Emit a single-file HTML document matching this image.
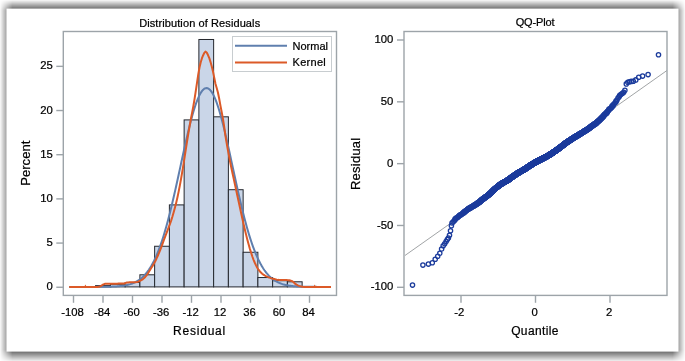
<!DOCTYPE html>
<html><head><meta charset="utf-8"><title>Residual diagnostics</title>
<style>html,body{margin:0;padding:0;background:#fff;}body{width:685px;height:361px;overflow:hidden;position:relative;font-family:"Liberation Sans",sans-serif;}</style>
</head><body>
<svg width="685" height="361" viewBox="0 0 685 361" style="position:absolute;left:0;top:0;will-change:transform">
<defs>
<linearGradient id="gx" gradientUnits="userSpaceOnUse" x1="0" y1="0" x2="685" y2="0">
<stop offset="0" stop-color="#fff" stop-opacity="0.0235"/><stop offset="0.018102" stop-color="#fff" stop-opacity="1"/><stop offset="0.981898" stop-color="#fff" stop-opacity="1"/><stop offset="1" stop-color="#fff" stop-opacity="0.0235"/></linearGradient>
<linearGradient id="gy" gradientUnits="userSpaceOnUse" x1="0" y1="0" x2="0" y2="361">
<stop offset="0" stop-color="#000" stop-opacity="0.02"/><stop offset="0.02964" stop-color="#000" stop-opacity="0.68"/><stop offset="0.96842" stop-color="#000" stop-opacity="0.68"/><stop offset="1" stop-color="#000" stop-opacity="0.062"/></linearGradient>
<mask id="mx" maskUnits="userSpaceOnUse" x="0" y="0" width="685" height="361" style="mask-type:alpha"><rect x="0" y="0" width="685" height="361" fill="url(#gx)"/></mask>
<clipPath id="cl"><rect x="64" y="32" width="272" height="263"/></clipPath>
<clipPath id="cr"><rect x="405" y="32" width="262" height="263"/></clipPath>
</defs>
<rect x="0" y="0" width="685" height="361" fill="url(#gy)" mask="url(#mx)"/>
<rect x="6.5" y="8.6" width="672.0" height="343.0" fill="#fff"/>
<g clip-path="url(#cl)">
<rect x="95.63" y="285.57" width="14.75" height="1.33" fill="#cad6e8" stroke="#24272d" stroke-width="1"/>
<rect x="110.38" y="284.25" width="14.75" height="2.65" fill="#cad6e8" stroke="#24272d" stroke-width="1"/>
<rect x="125.13" y="282.48" width="14.75" height="4.42" fill="#cad6e8" stroke="#24272d" stroke-width="1"/>
<rect x="139.88" y="274.79" width="14.75" height="12.11" fill="#cad6e8" stroke="#24272d" stroke-width="1"/>
<rect x="154.63" y="246.25" width="14.75" height="40.65" fill="#cad6e8" stroke="#24272d" stroke-width="1"/>
<rect x="169.38" y="204.90" width="14.75" height="82.00" fill="#cad6e8" stroke="#24272d" stroke-width="1"/>
<rect x="184.13" y="119.90" width="14.75" height="167.00" fill="#cad6e8" stroke="#24272d" stroke-width="1"/>
<rect x="198.88" y="39.49" width="14.75" height="247.41" fill="#cad6e8" stroke="#24272d" stroke-width="1"/>
<rect x="213.63" y="116.81" width="14.75" height="170.09" fill="#cad6e8" stroke="#24272d" stroke-width="1"/>
<rect x="228.38" y="189.70" width="14.75" height="97.20" fill="#cad6e8" stroke="#24272d" stroke-width="1"/>
<rect x="243.13" y="252.26" width="14.75" height="34.64" fill="#cad6e8" stroke="#24272d" stroke-width="1"/>
<rect x="257.88" y="277.53" width="14.75" height="9.37" fill="#cad6e8" stroke="#24272d" stroke-width="1"/>
<rect x="272.63" y="280.71" width="14.75" height="6.19" fill="#cad6e8" stroke="#24272d" stroke-width="1"/>
<rect x="287.38" y="281.78" width="14.75" height="5.12" fill="#cad6e8" stroke="#24272d" stroke-width="1"/>
<polyline points="69.20,286.90 70.07,286.90 70.95,286.90 71.82,286.90 72.70,286.90 73.58,286.90 74.45,286.90 75.33,286.90 76.20,286.90 77.08,286.90 77.95,286.90 78.83,286.90 79.71,286.90 80.58,286.90 81.46,286.90 82.33,286.90 83.21,286.90 84.08,286.90 84.96,286.90 85.83,286.90 86.71,286.89 87.59,286.89 88.46,286.89 89.34,286.89 90.21,286.89 91.09,286.89 91.96,286.89 92.84,286.89 93.72,286.88 94.59,286.88 95.47,286.88 96.34,286.87 97.22,286.87 98.09,286.87 98.97,286.86 99.84,286.85 100.72,286.85 101.60,286.84 102.47,286.83 103.35,286.82 104.22,286.81 105.10,286.80 105.97,286.78 106.85,286.77 107.73,286.75 108.60,286.73 109.48,286.71 110.35,286.68 111.23,286.65 112.10,286.62 112.98,286.59 113.86,286.55 114.73,286.50 115.61,286.45 116.48,286.40 117.36,286.33 118.23,286.27 119.11,286.19 119.98,286.10 120.86,286.01 121.74,285.91 122.61,285.79 123.49,285.67 124.36,285.53 125.24,285.38 126.11,285.21 126.99,285.02 127.87,284.82 128.74,284.60 129.62,284.36 130.49,284.10 131.37,283.81 132.24,283.50 133.12,283.16 133.99,282.79 134.87,282.38 135.75,281.95 136.62,281.48 137.50,280.97 138.37,280.42 139.25,279.83 140.12,279.19 141.00,278.50 141.88,277.77 142.75,276.98 143.63,276.13 144.50,275.23 145.38,274.26 146.25,273.23 147.13,272.13 148.00,270.97 148.88,269.73 149.76,268.41 150.63,267.01 151.51,265.54 152.38,263.98 153.26,262.33 154.13,260.60 155.01,258.77 155.89,256.86 156.76,254.84 157.64,252.74 158.51,250.53 159.39,248.23 160.26,245.82 161.14,243.32 162.01,240.71 162.89,238.01 163.77,235.21 164.64,232.30 165.52,229.30 166.39,226.20 167.27,223.01 168.14,219.73 169.02,216.36 169.90,212.90 170.77,209.36 171.65,205.74 172.52,202.05 173.40,198.30 174.27,194.48 175.15,190.60 176.02,186.68 176.90,182.72 177.78,178.72 178.65,174.69 179.53,170.65 180.40,166.59 181.28,162.54 182.15,158.49 183.03,154.46 183.91,150.46 184.78,146.50 185.66,142.59 186.53,138.74 187.41,134.95 188.28,131.24 189.16,127.63 190.03,124.11 190.91,120.71 191.79,117.42 192.66,114.27 193.54,111.26 194.41,108.39 195.29,105.69 196.16,103.15 197.04,100.78 197.92,98.60 198.79,96.61 199.67,94.81 200.54,93.22 201.42,91.84 202.29,90.66 203.17,89.71 204.04,88.97 204.92,88.45 205.80,88.16 206.67,88.09 207.55,88.25 208.42,88.63 209.30,89.24 210.17,90.06 211.05,91.11 211.93,92.37 212.80,93.84 213.68,95.51 214.55,97.38 215.43,99.45 216.30,101.71 217.18,104.14 218.05,106.75 218.93,109.52 219.81,112.45 220.68,115.52 221.56,118.73 222.43,122.06 223.31,125.51 224.18,129.07 225.06,132.72 225.94,136.46 226.81,140.27 227.69,144.15 228.56,148.09 229.44,152.06 230.31,156.08 231.19,160.11 232.06,164.16 232.94,168.22 233.82,172.27 234.69,176.31 235.57,180.32 236.44,184.31 237.32,188.26 238.19,192.16 239.07,196.02 239.95,199.81 240.82,203.54 241.70,207.20 242.57,210.79 243.45,214.30 244.32,217.72 245.20,221.06 246.08,224.30 246.95,227.46 247.83,230.52 248.70,233.48 249.58,236.34 250.45,239.11 251.33,241.77 252.20,244.33 253.08,246.80 253.96,249.16 254.83,251.43 255.71,253.59 256.58,255.66 257.46,257.64 258.33,259.52 259.21,261.30 260.09,263.00 260.96,264.61 261.84,266.14 262.71,267.58 263.59,268.95 264.46,270.23 265.34,271.44 266.21,272.58 267.09,273.65 267.97,274.66 268.84,275.60 269.72,276.48 270.59,277.30 271.47,278.07 272.34,278.79 273.22,279.45 274.10,280.07 274.97,280.65 275.85,281.18 276.72,281.67 277.60,282.13 278.47,282.55 279.35,282.94 280.22,283.30 281.10,283.62 281.98,283.93 282.85,284.21 283.73,284.46 284.60,284.69 285.48,284.91 286.35,285.10 287.23,285.28 288.11,285.44 288.98,285.59 289.86,285.72 290.73,285.84 291.61,285.95 292.48,286.05 293.36,286.14 294.23,286.22 295.11,286.29 295.99,286.36 296.86,286.42 297.74,286.47 298.61,286.52 299.49,286.56 300.36,286.60 301.24,286.64 302.12,286.67 302.99,286.69 303.87,286.72 304.74,286.74 305.62,286.76 306.49,286.78 307.37,286.79 308.24,286.80 309.12,286.82 310.00,286.83 310.87,286.84 311.75,286.84 312.62,286.85 313.50,286.86 314.37,286.86 315.25,286.87 316.13,286.87 317.00,286.88 317.88,286.88 318.75,286.88 319.63,286.88 320.50,286.89 321.38,286.89 322.25,286.89 323.13,286.89 324.01,286.89 324.88,286.89 325.76,286.89 326.63,286.90 327.51,286.90 328.38,286.90 329.26,286.90 330.14,286.90 331.01,286.90" fill="none" stroke="#5f7fae" stroke-width="2" stroke-linejoin="round"/>
<polyline points="69.20,286.90 70.43,286.90 71.66,286.90 72.89,286.90 74.11,286.90 75.34,286.90 76.57,286.90 77.80,286.90 79.03,286.90 80.26,286.90 81.49,286.90 82.72,286.90 83.95,286.90 85.18,286.90 86.41,286.90 87.64,286.90 88.86,286.90 90.09,286.90 91.32,286.90 92.55,286.90 93.78,286.90 95.01,286.90 96.24,286.90 97.47,286.90 98.70,286.84 99.93,286.44 101.16,285.86 102.39,284.97 103.61,284.31 104.84,283.81 106.07,283.71 107.30,283.68 108.53,283.67 109.76,283.65 110.99,283.64 112.22,283.64 113.45,283.64 114.68,283.63 115.91,283.63 117.14,283.63 118.36,283.62 119.59,283.62 120.82,283.61 122.05,283.59 123.28,283.57 124.51,283.55 125.74,282.88 126.97,282.51 128.20,282.43 129.43,282.37 130.66,282.34 131.89,282.31 133.11,282.28 134.34,282.24 135.57,282.16 136.80,282.00 138.03,281.67 139.26,281.20 140.49,280.65 141.72,279.99 142.95,279.08 144.18,277.98 145.41,276.73 146.64,275.27 147.86,273.44 149.09,271.43 150.32,269.42 151.55,267.52 152.78,265.59 154.01,263.53 155.24,261.23 156.47,258.71 157.70,256.01 158.93,253.16 160.16,250.12 161.39,246.90 162.61,243.57 163.84,240.19 165.07,236.84 166.30,233.58 167.53,230.40 168.76,227.21 169.99,223.89 171.22,220.35 172.45,216.50 173.68,212.31 174.91,207.77 176.14,202.90 177.36,197.66 178.59,191.87 179.82,185.59 181.05,178.92 182.28,171.65 183.51,164.08 184.74,156.31 185.97,148.34 187.20,140.48 188.43,132.99 189.66,125.80 190.89,118.97 192.11,112.68 193.34,106.19 194.57,98.85 195.80,90.97 197.03,82.70 198.26,74.35 199.49,67.48 200.72,62.28 201.95,58.20 203.18,55.21 204.41,52.64 205.64,51.60 206.86,52.81 208.09,55.28 209.32,58.15 210.55,62.09 211.78,66.53 213.01,71.60 214.24,77.64 215.47,83.74 216.70,88.07 217.93,92.51 219.16,98.57 220.39,105.33 221.61,111.66 222.84,118.10 224.07,125.94 225.30,134.90 226.53,142.44 227.76,149.30 228.99,155.92 230.22,162.24 231.45,168.24 232.68,173.97 233.91,179.64 235.14,185.35 236.37,191.02 237.59,196.68 238.82,202.32 240.05,208.00 241.28,213.69 242.51,219.28 243.74,224.70 244.97,229.99 246.20,235.14 247.43,240.02 248.66,244.58 249.89,248.87 251.12,252.82 252.34,256.49 253.57,259.84 254.80,262.74 256.03,265.40 257.26,267.76 258.49,269.67 259.72,271.21 260.95,272.55 262.18,273.69 263.41,274.62 264.64,275.40 265.87,276.07 267.09,276.67 268.32,277.20 269.55,277.67 270.78,278.09 272.01,278.45 273.24,278.77 274.47,279.06 275.70,279.37 276.93,279.66 278.16,279.87 279.39,279.95 280.62,279.99 281.84,280.02 283.07,280.04 284.30,280.06 285.53,280.08 286.76,280.11 287.99,280.16 289.22,280.27 290.45,280.57 291.68,281.02 292.91,281.62 294.14,282.75 295.37,283.90 296.59,284.68 297.82,285.36 299.05,285.90 300.28,286.28 301.51,286.60 302.74,286.83 303.97,286.90 305.20,286.90 306.43,286.90 307.66,286.90 308.89,286.90 310.12,286.90 311.34,286.90 312.57,286.90 313.80,286.90 315.03,286.90 316.26,286.90 317.49,286.90 318.72,286.90 319.95,286.90 321.18,286.90 322.41,286.90 323.64,286.90 324.87,286.90 326.09,286.90 327.32,286.90 328.55,286.90 329.78,286.90 331.01,286.90" fill="none" stroke="#dc5a28" stroke-width="2" stroke-linejoin="round"/>
<path d="M84.5,286.2 L85.4,284.4 L86.3,286.2 Z M313.8,286.2 L314.7,284.4 L315.6,286.2 Z" fill="#dc5a28"/>
</g>
<rect x="63.3" y="31.5" width="273.2" height="263.9" fill="none" stroke="#9da4a9" stroke-width="1.4"/>
<line x1="73.5" y1="295.4" x2="73.5" y2="302.79999999999995" stroke="#9da4a9" stroke-width="1.4"/>
<text x="72.6" y="315.9" font-size="11.3" text-anchor="middle" font-family="Liberation Sans, sans-serif" stroke="#000" stroke-width="0.22" fill="#000">-108</text>
<line x1="103.00008" y1="295.4" x2="103.00008" y2="302.79999999999995" stroke="#9da4a9" stroke-width="1.4"/>
<text x="102.1" y="315.9" font-size="11.3" text-anchor="middle" font-family="Liberation Sans, sans-serif" stroke="#000" stroke-width="0.22" fill="#000">-84</text>
<line x1="132.50016" y1="295.4" x2="132.50016" y2="302.79999999999995" stroke="#9da4a9" stroke-width="1.4"/>
<text x="131.6" y="315.9" font-size="11.3" text-anchor="middle" font-family="Liberation Sans, sans-serif" stroke="#000" stroke-width="0.22" fill="#000">-60</text>
<line x1="162.00024000000002" y1="295.4" x2="162.00024000000002" y2="302.79999999999995" stroke="#9da4a9" stroke-width="1.4"/>
<text x="161.1" y="315.9" font-size="11.3" text-anchor="middle" font-family="Liberation Sans, sans-serif" stroke="#000" stroke-width="0.22" fill="#000">-36</text>
<line x1="191.50032000000002" y1="295.4" x2="191.50032000000002" y2="302.79999999999995" stroke="#9da4a9" stroke-width="1.4"/>
<text x="190.6" y="315.9" font-size="11.3" text-anchor="middle" font-family="Liberation Sans, sans-serif" stroke="#000" stroke-width="0.22" fill="#000">-12</text>
<line x1="221.0004" y1="295.4" x2="221.0004" y2="302.79999999999995" stroke="#9da4a9" stroke-width="1.4"/>
<text x="220.1" y="315.9" font-size="11.3" text-anchor="middle" font-family="Liberation Sans, sans-serif" stroke="#000" stroke-width="0.22" fill="#000">12</text>
<line x1="250.50048" y1="295.4" x2="250.50048" y2="302.79999999999995" stroke="#9da4a9" stroke-width="1.4"/>
<text x="249.6" y="315.9" font-size="11.3" text-anchor="middle" font-family="Liberation Sans, sans-serif" stroke="#000" stroke-width="0.22" fill="#000">36</text>
<line x1="280.00056" y1="295.4" x2="280.00056" y2="302.79999999999995" stroke="#9da4a9" stroke-width="1.4"/>
<text x="279.1" y="315.9" font-size="11.3" text-anchor="middle" font-family="Liberation Sans, sans-serif" stroke="#000" stroke-width="0.22" fill="#000">60</text>
<line x1="309.50064000000003" y1="295.4" x2="309.50064000000003" y2="302.79999999999995" stroke="#9da4a9" stroke-width="1.4"/>
<text x="308.6" y="315.9" font-size="11.3" text-anchor="middle" font-family="Liberation Sans, sans-serif" stroke="#000" stroke-width="0.22" fill="#000">84</text>
<line x1="56.3" y1="287.25" x2="63.3" y2="287.25" stroke="#9da4a9" stroke-width="1.4"/>
<text x="52.9" y="290.3" font-size="11.3" text-anchor="end" font-family="Liberation Sans, sans-serif" stroke="#000" stroke-width="0.22" fill="#000">0</text>
<line x1="56.3" y1="243.06999999999996" x2="63.3" y2="243.06999999999996" stroke="#9da4a9" stroke-width="1.4"/>
<text x="52.9" y="246.2" font-size="11.3" text-anchor="end" font-family="Liberation Sans, sans-serif" stroke="#000" stroke-width="0.22" fill="#000">5</text>
<line x1="56.3" y1="198.88999999999996" x2="63.3" y2="198.88999999999996" stroke="#9da4a9" stroke-width="1.4"/>
<text x="52.9" y="202.0" font-size="11.3" text-anchor="end" font-family="Liberation Sans, sans-serif" stroke="#000" stroke-width="0.22" fill="#000">10</text>
<line x1="56.3" y1="154.70999999999998" x2="63.3" y2="154.70999999999998" stroke="#9da4a9" stroke-width="1.4"/>
<text x="52.9" y="157.8" font-size="11.3" text-anchor="end" font-family="Liberation Sans, sans-serif" stroke="#000" stroke-width="0.22" fill="#000">15</text>
<line x1="56.3" y1="110.52999999999997" x2="63.3" y2="110.52999999999997" stroke="#9da4a9" stroke-width="1.4"/>
<text x="52.9" y="113.6" font-size="11.3" text-anchor="end" font-family="Liberation Sans, sans-serif" stroke="#000" stroke-width="0.22" fill="#000">20</text>
<line x1="56.3" y1="66.34999999999997" x2="63.3" y2="66.34999999999997" stroke="#9da4a9" stroke-width="1.4"/>
<text x="52.9" y="69.4" font-size="11.3" text-anchor="end" font-family="Liberation Sans, sans-serif" stroke="#000" stroke-width="0.22" fill="#000">25</text>
<text x="199.7" y="26.6" font-size="11" text-anchor="middle" letter-spacing="0.1" font-family="Liberation Sans, sans-serif" stroke="#000" stroke-width="0.22" fill="#000">Distribution of Residuals</text>
<text x="199.5" y="335.1" font-size="12" text-anchor="middle" letter-spacing="0.8" font-family="Liberation Sans, sans-serif" stroke="#000" stroke-width="0.22" fill="#000">Residual</text>
<text transform="translate(30.0,163.2) rotate(-90)" font-size="13" text-anchor="middle" letter-spacing="0.05" font-family="Liberation Sans, sans-serif" stroke="#000" stroke-width="0.22" fill="#000">Percent</text>
<rect x="232.5" y="36.5" width="99" height="35" fill="#fff" stroke="#c8cdd0" stroke-width="1"/>
<line x1="235" y1="45.8" x2="287" y2="45.8" stroke="#5f7fae" stroke-width="2"/>
<line x1="235" y1="62.4" x2="287" y2="62.4" stroke="#dc5a28" stroke-width="2"/>
<text x="292.5" y="49.7" font-size="11" font-family="Liberation Sans, sans-serif" stroke="#000" stroke-width="0.22" fill="#000">Normal</text>
<text x="292.5" y="66.4" font-size="11" letter-spacing="0.3" font-family="Liberation Sans, sans-serif" stroke="#000" stroke-width="0.22" fill="#000">Kernel</text>
<g clip-path="url(#cr)">
<line x1="400" y1="259.0" x2="670" y2="68.35" stroke="#909396" stroke-width="0.85"/>
<g fill="none" stroke="#1b3b9c" stroke-width="1.3">
<circle cx="412.5" cy="285.1" r="2.15"/>
<circle cx="422.9" cy="265.1" r="2.15"/>
<circle cx="428.4" cy="264.1" r="2.15"/>
<circle cx="432.3" cy="262.7" r="2.15"/>
<circle cx="435.2" cy="259.2" r="2.15"/>
<circle cx="437.7" cy="256.2" r="2.15"/>
<circle cx="439.8" cy="253.3" r="2.15"/>
<circle cx="441.6" cy="249.0" r="2.15"/>
<circle cx="443.2" cy="245.7" r="2.15"/>
<circle cx="444.7" cy="243.8" r="2.15"/>
<circle cx="446.1" cy="241.5" r="2.15"/>
<circle cx="447.3" cy="239.6" r="2.15"/>
<circle cx="448.4" cy="238.0" r="2.15"/>
<circle cx="449.5" cy="235.2" r="2.15"/>
<circle cx="450.5" cy="230.7" r="2.15"/>
<circle cx="451.4" cy="225.7" r="2.15"/>
<circle cx="452.0" cy="223.0" r="2.15"/>
<circle cx="453.0" cy="222.0" r="2.15"/>
<circle cx="454.0" cy="221.0" r="2.15"/>
<circle cx="455.0" cy="220.0" r="2.15"/>
<circle cx="455.0" cy="219.0" r="2.15"/>
<circle cx="456.0" cy="218.0" r="2.15"/>
<circle cx="457.0" cy="218.0" r="2.15"/>
<circle cx="458.0" cy="217.0" r="2.15"/>
<circle cx="458.0" cy="217.0" r="2.15"/>
<circle cx="459.0" cy="216.0" r="2.15"/>
<circle cx="459.0" cy="216.0" r="2.15"/>
<circle cx="460.0" cy="215.0" r="2.15"/>
<circle cx="460.0" cy="215.0" r="2.15"/>
<circle cx="461.0" cy="215.0" r="2.15"/>
<circle cx="462.0" cy="214.0" r="2.15"/>
<circle cx="462.0" cy="214.0" r="2.15"/>
<circle cx="463.0" cy="213.0" r="2.15"/>
<circle cx="463.0" cy="213.0" r="2.15"/>
<circle cx="464.0" cy="213.0" r="2.15"/>
<circle cx="464.0" cy="212.0" r="2.15"/>
<circle cx="464.0" cy="212.0" r="2.15"/>
<circle cx="465.0" cy="212.0" r="2.15"/>
<circle cx="465.0" cy="211.0" r="2.15"/>
<circle cx="466.0" cy="211.0" r="2.15"/>
<circle cx="466.0" cy="211.0" r="2.15"/>
<circle cx="467.0" cy="210.0" r="2.15"/>
<circle cx="467.0" cy="210.0" r="2.15"/>
<circle cx="467.0" cy="210.0" r="2.15"/>
<circle cx="468.0" cy="209.0" r="2.15"/>
<circle cx="468.0" cy="209.0" r="2.15"/>
<circle cx="468.0" cy="209.0" r="2.15"/>
<circle cx="469.0" cy="209.0" r="2.15"/>
<circle cx="469.0" cy="209.0" r="2.15"/>
<circle cx="469.0" cy="208.0" r="2.15"/>
<circle cx="470.0" cy="208.0" r="2.15"/>
<circle cx="470.0" cy="208.0" r="2.15"/>
<circle cx="470.0" cy="208.0" r="2.15"/>
<circle cx="471.0" cy="208.0" r="2.15"/>
<circle cx="471.0" cy="207.0" r="2.15"/>
<circle cx="471.0" cy="207.0" r="2.15"/>
<circle cx="472.0" cy="207.0" r="2.15"/>
<circle cx="472.0" cy="207.0" r="2.15"/>
<circle cx="472.0" cy="207.0" r="2.15"/>
<circle cx="473.0" cy="206.0" r="2.15"/>
<circle cx="473.0" cy="206.0" r="2.15"/>
<circle cx="473.0" cy="206.0" r="2.15"/>
<circle cx="474.0" cy="206.0" r="2.15"/>
<circle cx="474.0" cy="206.0" r="2.15"/>
<circle cx="474.0" cy="206.0" r="2.15"/>
<circle cx="474.0" cy="205.0" r="2.15"/>
<circle cx="475.0" cy="205.0" r="2.15"/>
<circle cx="475.0" cy="205.0" r="2.15"/>
<circle cx="475.0" cy="205.0" r="2.15"/>
<circle cx="475.0" cy="205.0" r="2.15"/>
<circle cx="476.0" cy="205.0" r="2.15"/>
<circle cx="476.0" cy="204.0" r="2.15"/>
<circle cx="476.0" cy="204.0" r="2.15"/>
<circle cx="477.0" cy="204.0" r="2.15"/>
<circle cx="477.0" cy="204.0" r="2.15"/>
<circle cx="477.0" cy="204.0" r="2.15"/>
<circle cx="477.0" cy="204.0" r="2.15"/>
<circle cx="477.0" cy="203.0" r="2.15"/>
<circle cx="478.0" cy="203.0" r="2.15"/>
<circle cx="478.0" cy="203.0" r="2.15"/>
<circle cx="478.0" cy="203.0" r="2.15"/>
<circle cx="478.0" cy="203.0" r="2.15"/>
<circle cx="479.0" cy="203.0" r="2.15"/>
<circle cx="479.0" cy="202.0" r="2.15"/>
<circle cx="479.0" cy="202.0" r="2.15"/>
<circle cx="479.0" cy="202.0" r="2.15"/>
<circle cx="480.0" cy="202.0" r="2.15"/>
<circle cx="480.0" cy="202.0" r="2.15"/>
<circle cx="480.0" cy="202.0" r="2.15"/>
<circle cx="480.0" cy="201.0" r="2.15"/>
<circle cx="480.0" cy="201.0" r="2.15"/>
<circle cx="481.0" cy="201.0" r="2.15"/>
<circle cx="481.0" cy="201.0" r="2.15"/>
<circle cx="481.0" cy="201.0" r="2.15"/>
<circle cx="481.0" cy="200.0" r="2.15"/>
<circle cx="481.0" cy="200.0" r="2.15"/>
<circle cx="482.0" cy="200.0" r="2.15"/>
<circle cx="482.0" cy="200.0" r="2.15"/>
<circle cx="482.0" cy="200.0" r="2.15"/>
<circle cx="482.0" cy="200.0" r="2.15"/>
<circle cx="482.0" cy="199.0" r="2.15"/>
<circle cx="483.0" cy="199.0" r="2.15"/>
<circle cx="483.0" cy="199.0" r="2.15"/>
<circle cx="483.0" cy="199.0" r="2.15"/>
<circle cx="483.0" cy="199.0" r="2.15"/>
<circle cx="483.0" cy="199.0" r="2.15"/>
<circle cx="484.0" cy="199.0" r="2.15"/>
<circle cx="484.0" cy="198.0" r="2.15"/>
<circle cx="484.0" cy="198.0" r="2.15"/>
<circle cx="484.0" cy="198.0" r="2.15"/>
<circle cx="484.0" cy="198.0" r="2.15"/>
<circle cx="485.0" cy="198.0" r="2.15"/>
<circle cx="485.0" cy="198.0" r="2.15"/>
<circle cx="485.0" cy="198.0" r="2.15"/>
<circle cx="485.0" cy="197.0" r="2.15"/>
<circle cx="485.0" cy="197.0" r="2.15"/>
<circle cx="485.0" cy="197.0" r="2.15"/>
<circle cx="486.0" cy="197.0" r="2.15"/>
<circle cx="486.0" cy="197.0" r="2.15"/>
<circle cx="486.0" cy="197.0" r="2.15"/>
<circle cx="486.0" cy="197.0" r="2.15"/>
<circle cx="486.0" cy="197.0" r="2.15"/>
<circle cx="487.0" cy="196.0" r="2.15"/>
<circle cx="487.0" cy="196.0" r="2.15"/>
<circle cx="487.0" cy="196.0" r="2.15"/>
<circle cx="487.0" cy="196.0" r="2.15"/>
<circle cx="487.0" cy="196.0" r="2.15"/>
<circle cx="487.0" cy="196.0" r="2.15"/>
<circle cx="488.0" cy="196.0" r="2.15"/>
<circle cx="488.0" cy="195.0" r="2.15"/>
<circle cx="488.0" cy="195.0" r="2.15"/>
<circle cx="488.0" cy="195.0" r="2.15"/>
<circle cx="488.0" cy="195.0" r="2.15"/>
<circle cx="488.0" cy="195.0" r="2.15"/>
<circle cx="489.0" cy="195.0" r="2.15"/>
<circle cx="489.0" cy="195.0" r="2.15"/>
<circle cx="489.0" cy="195.0" r="2.15"/>
<circle cx="489.0" cy="194.0" r="2.15"/>
<circle cx="489.0" cy="194.0" r="2.15"/>
<circle cx="489.0" cy="194.0" r="2.15"/>
<circle cx="489.0" cy="194.0" r="2.15"/>
<circle cx="490.0" cy="194.0" r="2.15"/>
<circle cx="490.0" cy="194.0" r="2.15"/>
<circle cx="490.0" cy="194.0" r="2.15"/>
<circle cx="490.0" cy="194.0" r="2.15"/>
<circle cx="490.0" cy="193.0" r="2.15"/>
<circle cx="490.0" cy="193.0" r="2.15"/>
<circle cx="491.0" cy="193.0" r="2.15"/>
<circle cx="491.0" cy="193.0" r="2.15"/>
<circle cx="491.0" cy="193.0" r="2.15"/>
<circle cx="491.0" cy="193.0" r="2.15"/>
<circle cx="491.0" cy="193.0" r="2.15"/>
<circle cx="491.0" cy="192.0" r="2.15"/>
<circle cx="491.0" cy="192.0" r="2.15"/>
<circle cx="492.0" cy="192.0" r="2.15"/>
<circle cx="492.0" cy="192.0" r="2.15"/>
<circle cx="492.0" cy="192.0" r="2.15"/>
<circle cx="492.0" cy="192.0" r="2.15"/>
<circle cx="492.0" cy="192.0" r="2.15"/>
<circle cx="492.0" cy="191.0" r="2.15"/>
<circle cx="492.0" cy="191.0" r="2.15"/>
<circle cx="493.0" cy="191.0" r="2.15"/>
<circle cx="493.0" cy="191.0" r="2.15"/>
<circle cx="493.0" cy="191.0" r="2.15"/>
<circle cx="493.0" cy="191.0" r="2.15"/>
<circle cx="493.0" cy="191.0" r="2.15"/>
<circle cx="493.0" cy="191.0" r="2.15"/>
<circle cx="493.0" cy="190.0" r="2.15"/>
<circle cx="493.0" cy="190.0" r="2.15"/>
<circle cx="494.0" cy="190.0" r="2.15"/>
<circle cx="494.0" cy="190.0" r="2.15"/>
<circle cx="494.0" cy="190.0" r="2.15"/>
<circle cx="494.0" cy="190.0" r="2.15"/>
<circle cx="494.0" cy="190.0" r="2.15"/>
<circle cx="494.0" cy="189.0" r="2.15"/>
<circle cx="494.0" cy="189.0" r="2.15"/>
<circle cx="495.0" cy="189.0" r="2.15"/>
<circle cx="495.0" cy="189.0" r="2.15"/>
<circle cx="495.0" cy="189.0" r="2.15"/>
<circle cx="495.0" cy="189.0" r="2.15"/>
<circle cx="495.0" cy="189.0" r="2.15"/>
<circle cx="495.0" cy="189.0" r="2.15"/>
<circle cx="495.0" cy="189.0" r="2.15"/>
<circle cx="495.0" cy="188.0" r="2.15"/>
<circle cx="496.0" cy="188.0" r="2.15"/>
<circle cx="496.0" cy="188.0" r="2.15"/>
<circle cx="496.0" cy="188.0" r="2.15"/>
<circle cx="496.0" cy="188.0" r="2.15"/>
<circle cx="496.0" cy="188.0" r="2.15"/>
<circle cx="496.0" cy="188.0" r="2.15"/>
<circle cx="496.0" cy="188.0" r="2.15"/>
<circle cx="496.0" cy="188.0" r="2.15"/>
<circle cx="497.0" cy="187.0" r="2.15"/>
<circle cx="497.0" cy="187.0" r="2.15"/>
<circle cx="497.0" cy="187.0" r="2.15"/>
<circle cx="497.0" cy="187.0" r="2.15"/>
<circle cx="497.0" cy="187.0" r="2.15"/>
<circle cx="497.0" cy="187.0" r="2.15"/>
<circle cx="497.0" cy="187.0" r="2.15"/>
<circle cx="497.0" cy="187.0" r="2.15"/>
<circle cx="498.0" cy="187.0" r="2.15"/>
<circle cx="498.0" cy="187.0" r="2.15"/>
<circle cx="498.0" cy="186.0" r="2.15"/>
<circle cx="498.0" cy="186.0" r="2.15"/>
<circle cx="498.0" cy="186.0" r="2.15"/>
<circle cx="498.0" cy="186.0" r="2.15"/>
<circle cx="498.0" cy="186.0" r="2.15"/>
<circle cx="498.0" cy="186.0" r="2.15"/>
<circle cx="499.0" cy="186.0" r="2.15"/>
<circle cx="499.0" cy="186.0" r="2.15"/>
<circle cx="499.0" cy="186.0" r="2.15"/>
<circle cx="499.0" cy="186.0" r="2.15"/>
<circle cx="499.0" cy="186.0" r="2.15"/>
<circle cx="499.0" cy="185.0" r="2.15"/>
<circle cx="499.0" cy="185.0" r="2.15"/>
<circle cx="499.0" cy="185.0" r="2.15"/>
<circle cx="499.0" cy="185.0" r="2.15"/>
<circle cx="500.0" cy="185.0" r="2.15"/>
<circle cx="500.0" cy="185.0" r="2.15"/>
<circle cx="500.0" cy="185.0" r="2.15"/>
<circle cx="500.0" cy="185.0" r="2.15"/>
<circle cx="500.0" cy="185.0" r="2.15"/>
<circle cx="500.0" cy="185.0" r="2.15"/>
<circle cx="500.0" cy="185.0" r="2.15"/>
<circle cx="500.0" cy="185.0" r="2.15"/>
<circle cx="500.0" cy="184.0" r="2.15"/>
<circle cx="501.0" cy="184.0" r="2.15"/>
<circle cx="501.0" cy="184.0" r="2.15"/>
<circle cx="501.0" cy="184.0" r="2.15"/>
<circle cx="501.0" cy="184.0" r="2.15"/>
<circle cx="501.0" cy="184.0" r="2.15"/>
<circle cx="501.0" cy="184.0" r="2.15"/>
<circle cx="501.0" cy="184.0" r="2.15"/>
<circle cx="501.0" cy="184.0" r="2.15"/>
<circle cx="501.0" cy="184.0" r="2.15"/>
<circle cx="502.0" cy="184.0" r="2.15"/>
<circle cx="502.0" cy="184.0" r="2.15"/>
<circle cx="502.0" cy="184.0" r="2.15"/>
<circle cx="502.0" cy="184.0" r="2.15"/>
<circle cx="502.0" cy="183.0" r="2.15"/>
<circle cx="502.0" cy="183.0" r="2.15"/>
<circle cx="502.0" cy="183.0" r="2.15"/>
<circle cx="502.0" cy="183.0" r="2.15"/>
<circle cx="502.0" cy="183.0" r="2.15"/>
<circle cx="503.0" cy="183.0" r="2.15"/>
<circle cx="503.0" cy="183.0" r="2.15"/>
<circle cx="503.0" cy="183.0" r="2.15"/>
<circle cx="503.0" cy="183.0" r="2.15"/>
<circle cx="503.0" cy="183.0" r="2.15"/>
<circle cx="503.0" cy="183.0" r="2.15"/>
<circle cx="503.0" cy="183.0" r="2.15"/>
<circle cx="503.0" cy="183.0" r="2.15"/>
<circle cx="503.0" cy="183.0" r="2.15"/>
<circle cx="503.0" cy="183.0" r="2.15"/>
<circle cx="504.0" cy="183.0" r="2.15"/>
<circle cx="504.0" cy="182.0" r="2.15"/>
<circle cx="504.0" cy="182.0" r="2.15"/>
<circle cx="504.0" cy="182.0" r="2.15"/>
<circle cx="504.0" cy="182.0" r="2.15"/>
<circle cx="504.0" cy="182.0" r="2.15"/>
<circle cx="504.0" cy="182.0" r="2.15"/>
<circle cx="504.0" cy="182.0" r="2.15"/>
<circle cx="504.0" cy="182.0" r="2.15"/>
<circle cx="505.0" cy="182.0" r="2.15"/>
<circle cx="505.0" cy="182.0" r="2.15"/>
<circle cx="505.0" cy="182.0" r="2.15"/>
<circle cx="505.0" cy="182.0" r="2.15"/>
<circle cx="505.0" cy="182.0" r="2.15"/>
<circle cx="505.0" cy="182.0" r="2.15"/>
<circle cx="505.0" cy="182.0" r="2.15"/>
<circle cx="505.0" cy="182.0" r="2.15"/>
<circle cx="505.0" cy="182.0" r="2.15"/>
<circle cx="505.0" cy="182.0" r="2.15"/>
<circle cx="506.0" cy="181.0" r="2.15"/>
<circle cx="506.0" cy="181.0" r="2.15"/>
<circle cx="506.0" cy="181.0" r="2.15"/>
<circle cx="506.0" cy="181.0" r="2.15"/>
<circle cx="506.0" cy="181.0" r="2.15"/>
<circle cx="506.0" cy="181.0" r="2.15"/>
<circle cx="506.0" cy="181.0" r="2.15"/>
<circle cx="506.0" cy="181.0" r="2.15"/>
<circle cx="506.0" cy="181.0" r="2.15"/>
<circle cx="506.0" cy="181.0" r="2.15"/>
<circle cx="507.0" cy="181.0" r="2.15"/>
<circle cx="507.0" cy="181.0" r="2.15"/>
<circle cx="507.0" cy="181.0" r="2.15"/>
<circle cx="507.0" cy="181.0" r="2.15"/>
<circle cx="507.0" cy="181.0" r="2.15"/>
<circle cx="507.0" cy="181.0" r="2.15"/>
<circle cx="507.0" cy="181.0" r="2.15"/>
<circle cx="507.0" cy="181.0" r="2.15"/>
<circle cx="507.0" cy="180.0" r="2.15"/>
<circle cx="507.0" cy="180.0" r="2.15"/>
<circle cx="507.0" cy="180.0" r="2.15"/>
<circle cx="508.0" cy="180.0" r="2.15"/>
<circle cx="508.0" cy="180.0" r="2.15"/>
<circle cx="508.0" cy="180.0" r="2.15"/>
<circle cx="508.0" cy="180.0" r="2.15"/>
<circle cx="508.0" cy="180.0" r="2.15"/>
<circle cx="508.0" cy="180.0" r="2.15"/>
<circle cx="508.0" cy="180.0" r="2.15"/>
<circle cx="508.0" cy="180.0" r="2.15"/>
<circle cx="508.0" cy="180.0" r="2.15"/>
<circle cx="508.0" cy="180.0" r="2.15"/>
<circle cx="509.0" cy="180.0" r="2.15"/>
<circle cx="509.0" cy="180.0" r="2.15"/>
<circle cx="509.0" cy="180.0" r="2.15"/>
<circle cx="509.0" cy="179.0" r="2.15"/>
<circle cx="509.0" cy="179.0" r="2.15"/>
<circle cx="509.0" cy="179.0" r="2.15"/>
<circle cx="509.0" cy="179.0" r="2.15"/>
<circle cx="509.0" cy="179.0" r="2.15"/>
<circle cx="509.0" cy="179.0" r="2.15"/>
<circle cx="509.0" cy="179.0" r="2.15"/>
<circle cx="509.0" cy="179.0" r="2.15"/>
<circle cx="510.0" cy="179.0" r="2.15"/>
<circle cx="510.0" cy="179.0" r="2.15"/>
<circle cx="510.0" cy="179.0" r="2.15"/>
<circle cx="510.0" cy="179.0" r="2.15"/>
<circle cx="510.0" cy="179.0" r="2.15"/>
<circle cx="510.0" cy="179.0" r="2.15"/>
<circle cx="510.0" cy="179.0" r="2.15"/>
<circle cx="510.0" cy="178.0" r="2.15"/>
<circle cx="510.0" cy="178.0" r="2.15"/>
<circle cx="510.0" cy="178.0" r="2.15"/>
<circle cx="510.0" cy="178.0" r="2.15"/>
<circle cx="511.0" cy="178.0" r="2.15"/>
<circle cx="511.0" cy="178.0" r="2.15"/>
<circle cx="511.0" cy="178.0" r="2.15"/>
<circle cx="511.0" cy="178.0" r="2.15"/>
<circle cx="511.0" cy="178.0" r="2.15"/>
<circle cx="511.0" cy="178.0" r="2.15"/>
<circle cx="511.0" cy="178.0" r="2.15"/>
<circle cx="511.0" cy="178.0" r="2.15"/>
<circle cx="511.0" cy="178.0" r="2.15"/>
<circle cx="511.0" cy="178.0" r="2.15"/>
<circle cx="511.0" cy="178.0" r="2.15"/>
<circle cx="511.0" cy="177.0" r="2.15"/>
<circle cx="512.0" cy="177.0" r="2.15"/>
<circle cx="512.0" cy="177.0" r="2.15"/>
<circle cx="512.0" cy="177.0" r="2.15"/>
<circle cx="512.0" cy="177.0" r="2.15"/>
<circle cx="512.0" cy="177.0" r="2.15"/>
<circle cx="512.0" cy="177.0" r="2.15"/>
<circle cx="512.0" cy="177.0" r="2.15"/>
<circle cx="512.0" cy="177.0" r="2.15"/>
<circle cx="512.0" cy="177.0" r="2.15"/>
<circle cx="512.0" cy="177.0" r="2.15"/>
<circle cx="512.0" cy="177.0" r="2.15"/>
<circle cx="513.0" cy="177.0" r="2.15"/>
<circle cx="513.0" cy="177.0" r="2.15"/>
<circle cx="513.0" cy="177.0" r="2.15"/>
<circle cx="513.0" cy="177.0" r="2.15"/>
<circle cx="513.0" cy="176.0" r="2.15"/>
<circle cx="513.0" cy="176.0" r="2.15"/>
<circle cx="513.0" cy="176.0" r="2.15"/>
<circle cx="513.0" cy="176.0" r="2.15"/>
<circle cx="513.0" cy="176.0" r="2.15"/>
<circle cx="513.0" cy="176.0" r="2.15"/>
<circle cx="513.0" cy="176.0" r="2.15"/>
<circle cx="513.0" cy="176.0" r="2.15"/>
<circle cx="514.0" cy="176.0" r="2.15"/>
<circle cx="514.0" cy="176.0" r="2.15"/>
<circle cx="514.0" cy="176.0" r="2.15"/>
<circle cx="514.0" cy="176.0" r="2.15"/>
<circle cx="514.0" cy="176.0" r="2.15"/>
<circle cx="514.0" cy="176.0" r="2.15"/>
<circle cx="514.0" cy="176.0" r="2.15"/>
<circle cx="514.0" cy="176.0" r="2.15"/>
<circle cx="514.0" cy="176.0" r="2.15"/>
<circle cx="514.0" cy="175.0" r="2.15"/>
<circle cx="514.0" cy="175.0" r="2.15"/>
<circle cx="515.0" cy="175.0" r="2.15"/>
<circle cx="515.0" cy="175.0" r="2.15"/>
<circle cx="515.0" cy="175.0" r="2.15"/>
<circle cx="515.0" cy="175.0" r="2.15"/>
<circle cx="515.0" cy="175.0" r="2.15"/>
<circle cx="515.0" cy="175.0" r="2.15"/>
<circle cx="515.0" cy="175.0" r="2.15"/>
<circle cx="515.0" cy="175.0" r="2.15"/>
<circle cx="515.0" cy="175.0" r="2.15"/>
<circle cx="515.0" cy="175.0" r="2.15"/>
<circle cx="515.0" cy="175.0" r="2.15"/>
<circle cx="515.0" cy="175.0" r="2.15"/>
<circle cx="516.0" cy="175.0" r="2.15"/>
<circle cx="516.0" cy="175.0" r="2.15"/>
<circle cx="516.0" cy="175.0" r="2.15"/>
<circle cx="516.0" cy="174.0" r="2.15"/>
<circle cx="516.0" cy="174.0" r="2.15"/>
<circle cx="516.0" cy="174.0" r="2.15"/>
<circle cx="516.0" cy="174.0" r="2.15"/>
<circle cx="516.0" cy="174.0" r="2.15"/>
<circle cx="516.0" cy="174.0" r="2.15"/>
<circle cx="516.0" cy="174.0" r="2.15"/>
<circle cx="516.0" cy="174.0" r="2.15"/>
<circle cx="516.0" cy="174.0" r="2.15"/>
<circle cx="517.0" cy="174.0" r="2.15"/>
<circle cx="517.0" cy="174.0" r="2.15"/>
<circle cx="517.0" cy="174.0" r="2.15"/>
<circle cx="517.0" cy="174.0" r="2.15"/>
<circle cx="517.0" cy="174.0" r="2.15"/>
<circle cx="517.0" cy="174.0" r="2.15"/>
<circle cx="517.0" cy="174.0" r="2.15"/>
<circle cx="517.0" cy="174.0" r="2.15"/>
<circle cx="517.0" cy="174.0" r="2.15"/>
<circle cx="517.0" cy="174.0" r="2.15"/>
<circle cx="517.0" cy="173.0" r="2.15"/>
<circle cx="517.0" cy="173.0" r="2.15"/>
<circle cx="517.0" cy="173.0" r="2.15"/>
<circle cx="518.0" cy="173.0" r="2.15"/>
<circle cx="518.0" cy="173.0" r="2.15"/>
<circle cx="518.0" cy="173.0" r="2.15"/>
<circle cx="518.0" cy="173.0" r="2.15"/>
<circle cx="518.0" cy="173.0" r="2.15"/>
<circle cx="518.0" cy="173.0" r="2.15"/>
<circle cx="518.0" cy="173.0" r="2.15"/>
<circle cx="518.0" cy="173.0" r="2.15"/>
<circle cx="518.0" cy="173.0" r="2.15"/>
<circle cx="518.0" cy="173.0" r="2.15"/>
<circle cx="518.0" cy="173.0" r="2.15"/>
<circle cx="518.0" cy="173.0" r="2.15"/>
<circle cx="519.0" cy="173.0" r="2.15"/>
<circle cx="519.0" cy="173.0" r="2.15"/>
<circle cx="519.0" cy="173.0" r="2.15"/>
<circle cx="519.0" cy="173.0" r="2.15"/>
<circle cx="519.0" cy="173.0" r="2.15"/>
<circle cx="519.0" cy="172.0" r="2.15"/>
<circle cx="519.0" cy="172.0" r="2.15"/>
<circle cx="519.0" cy="172.0" r="2.15"/>
<circle cx="519.0" cy="172.0" r="2.15"/>
<circle cx="519.0" cy="172.0" r="2.15"/>
<circle cx="519.0" cy="172.0" r="2.15"/>
<circle cx="519.0" cy="172.0" r="2.15"/>
<circle cx="519.0" cy="172.0" r="2.15"/>
<circle cx="520.0" cy="172.0" r="2.15"/>
<circle cx="520.0" cy="172.0" r="2.15"/>
<circle cx="520.0" cy="172.0" r="2.15"/>
<circle cx="520.0" cy="172.0" r="2.15"/>
<circle cx="520.0" cy="172.0" r="2.15"/>
<circle cx="520.0" cy="172.0" r="2.15"/>
<circle cx="520.0" cy="172.0" r="2.15"/>
<circle cx="520.0" cy="172.0" r="2.15"/>
<circle cx="520.0" cy="172.0" r="2.15"/>
<circle cx="520.0" cy="172.0" r="2.15"/>
<circle cx="520.0" cy="172.0" r="2.15"/>
<circle cx="520.0" cy="172.0" r="2.15"/>
<circle cx="520.0" cy="172.0" r="2.15"/>
<circle cx="521.0" cy="172.0" r="2.15"/>
<circle cx="521.0" cy="171.0" r="2.15"/>
<circle cx="521.0" cy="171.0" r="2.15"/>
<circle cx="521.0" cy="171.0" r="2.15"/>
<circle cx="521.0" cy="171.0" r="2.15"/>
<circle cx="521.0" cy="171.0" r="2.15"/>
<circle cx="521.0" cy="171.0" r="2.15"/>
<circle cx="521.0" cy="171.0" r="2.15"/>
<circle cx="521.0" cy="171.0" r="2.15"/>
<circle cx="521.0" cy="171.0" r="2.15"/>
<circle cx="521.0" cy="171.0" r="2.15"/>
<circle cx="521.0" cy="171.0" r="2.15"/>
<circle cx="521.0" cy="171.0" r="2.15"/>
<circle cx="522.0" cy="171.0" r="2.15"/>
<circle cx="522.0" cy="171.0" r="2.15"/>
<circle cx="522.0" cy="171.0" r="2.15"/>
<circle cx="522.0" cy="171.0" r="2.15"/>
<circle cx="522.0" cy="171.0" r="2.15"/>
<circle cx="522.0" cy="171.0" r="2.15"/>
<circle cx="522.0" cy="171.0" r="2.15"/>
<circle cx="522.0" cy="171.0" r="2.15"/>
<circle cx="522.0" cy="171.0" r="2.15"/>
<circle cx="522.0" cy="171.0" r="2.15"/>
<circle cx="522.0" cy="171.0" r="2.15"/>
<circle cx="522.0" cy="171.0" r="2.15"/>
<circle cx="522.0" cy="170.0" r="2.15"/>
<circle cx="523.0" cy="170.0" r="2.15"/>
<circle cx="523.0" cy="170.0" r="2.15"/>
<circle cx="523.0" cy="170.0" r="2.15"/>
<circle cx="523.0" cy="170.0" r="2.15"/>
<circle cx="523.0" cy="170.0" r="2.15"/>
<circle cx="523.0" cy="170.0" r="2.15"/>
<circle cx="523.0" cy="170.0" r="2.15"/>
<circle cx="523.0" cy="170.0" r="2.15"/>
<circle cx="523.0" cy="170.0" r="2.15"/>
<circle cx="523.0" cy="170.0" r="2.15"/>
<circle cx="523.0" cy="170.0" r="2.15"/>
<circle cx="523.0" cy="170.0" r="2.15"/>
<circle cx="523.0" cy="170.0" r="2.15"/>
<circle cx="524.0" cy="170.0" r="2.15"/>
<circle cx="524.0" cy="170.0" r="2.15"/>
<circle cx="524.0" cy="170.0" r="2.15"/>
<circle cx="524.0" cy="170.0" r="2.15"/>
<circle cx="524.0" cy="170.0" r="2.15"/>
<circle cx="524.0" cy="170.0" r="2.15"/>
<circle cx="524.0" cy="170.0" r="2.15"/>
<circle cx="524.0" cy="170.0" r="2.15"/>
<circle cx="524.0" cy="169.0" r="2.15"/>
<circle cx="524.0" cy="169.0" r="2.15"/>
<circle cx="524.0" cy="169.0" r="2.15"/>
<circle cx="524.0" cy="169.0" r="2.15"/>
<circle cx="524.0" cy="169.0" r="2.15"/>
<circle cx="525.0" cy="169.0" r="2.15"/>
<circle cx="525.0" cy="169.0" r="2.15"/>
<circle cx="525.0" cy="169.0" r="2.15"/>
<circle cx="525.0" cy="169.0" r="2.15"/>
<circle cx="525.0" cy="169.0" r="2.15"/>
<circle cx="525.0" cy="169.0" r="2.15"/>
<circle cx="525.0" cy="169.0" r="2.15"/>
<circle cx="525.0" cy="169.0" r="2.15"/>
<circle cx="525.0" cy="169.0" r="2.15"/>
<circle cx="525.0" cy="169.0" r="2.15"/>
<circle cx="525.0" cy="169.0" r="2.15"/>
<circle cx="525.0" cy="169.0" r="2.15"/>
<circle cx="525.0" cy="169.0" r="2.15"/>
<circle cx="526.0" cy="169.0" r="2.15"/>
<circle cx="526.0" cy="169.0" r="2.15"/>
<circle cx="526.0" cy="169.0" r="2.15"/>
<circle cx="526.0" cy="168.0" r="2.15"/>
<circle cx="526.0" cy="168.0" r="2.15"/>
<circle cx="526.0" cy="168.0" r="2.15"/>
<circle cx="526.0" cy="168.0" r="2.15"/>
<circle cx="526.0" cy="168.0" r="2.15"/>
<circle cx="526.0" cy="168.0" r="2.15"/>
<circle cx="526.0" cy="168.0" r="2.15"/>
<circle cx="526.0" cy="168.0" r="2.15"/>
<circle cx="526.0" cy="168.0" r="2.15"/>
<circle cx="526.0" cy="168.0" r="2.15"/>
<circle cx="526.0" cy="168.0" r="2.15"/>
<circle cx="527.0" cy="168.0" r="2.15"/>
<circle cx="527.0" cy="168.0" r="2.15"/>
<circle cx="527.0" cy="168.0" r="2.15"/>
<circle cx="527.0" cy="168.0" r="2.15"/>
<circle cx="527.0" cy="168.0" r="2.15"/>
<circle cx="527.0" cy="168.0" r="2.15"/>
<circle cx="527.0" cy="168.0" r="2.15"/>
<circle cx="527.0" cy="168.0" r="2.15"/>
<circle cx="527.0" cy="168.0" r="2.15"/>
<circle cx="527.0" cy="167.0" r="2.15"/>
<circle cx="527.0" cy="167.0" r="2.15"/>
<circle cx="527.0" cy="167.0" r="2.15"/>
<circle cx="527.0" cy="167.0" r="2.15"/>
<circle cx="528.0" cy="167.0" r="2.15"/>
<circle cx="528.0" cy="167.0" r="2.15"/>
<circle cx="528.0" cy="167.0" r="2.15"/>
<circle cx="528.0" cy="167.0" r="2.15"/>
<circle cx="528.0" cy="167.0" r="2.15"/>
<circle cx="528.0" cy="167.0" r="2.15"/>
<circle cx="528.0" cy="167.0" r="2.15"/>
<circle cx="528.0" cy="167.0" r="2.15"/>
<circle cx="528.0" cy="167.0" r="2.15"/>
<circle cx="528.0" cy="167.0" r="2.15"/>
<circle cx="528.0" cy="167.0" r="2.15"/>
<circle cx="528.0" cy="167.0" r="2.15"/>
<circle cx="528.0" cy="167.0" r="2.15"/>
<circle cx="528.0" cy="167.0" r="2.15"/>
<circle cx="529.0" cy="167.0" r="2.15"/>
<circle cx="529.0" cy="167.0" r="2.15"/>
<circle cx="529.0" cy="166.0" r="2.15"/>
<circle cx="529.0" cy="166.0" r="2.15"/>
<circle cx="529.0" cy="166.0" r="2.15"/>
<circle cx="529.0" cy="166.0" r="2.15"/>
<circle cx="529.0" cy="166.0" r="2.15"/>
<circle cx="529.0" cy="166.0" r="2.15"/>
<circle cx="529.0" cy="166.0" r="2.15"/>
<circle cx="529.0" cy="166.0" r="2.15"/>
<circle cx="529.0" cy="166.0" r="2.15"/>
<circle cx="529.0" cy="166.0" r="2.15"/>
<circle cx="529.0" cy="166.0" r="2.15"/>
<circle cx="529.0" cy="166.0" r="2.15"/>
<circle cx="530.0" cy="166.0" r="2.15"/>
<circle cx="530.0" cy="166.0" r="2.15"/>
<circle cx="530.0" cy="166.0" r="2.15"/>
<circle cx="530.0" cy="166.0" r="2.15"/>
<circle cx="530.0" cy="166.0" r="2.15"/>
<circle cx="530.0" cy="166.0" r="2.15"/>
<circle cx="530.0" cy="166.0" r="2.15"/>
<circle cx="530.0" cy="166.0" r="2.15"/>
<circle cx="530.0" cy="166.0" r="2.15"/>
<circle cx="530.0" cy="165.0" r="2.15"/>
<circle cx="530.0" cy="165.0" r="2.15"/>
<circle cx="530.0" cy="165.0" r="2.15"/>
<circle cx="530.0" cy="165.0" r="2.15"/>
<circle cx="530.0" cy="165.0" r="2.15"/>
<circle cx="531.0" cy="165.0" r="2.15"/>
<circle cx="531.0" cy="165.0" r="2.15"/>
<circle cx="531.0" cy="165.0" r="2.15"/>
<circle cx="531.0" cy="165.0" r="2.15"/>
<circle cx="531.0" cy="165.0" r="2.15"/>
<circle cx="531.0" cy="165.0" r="2.15"/>
<circle cx="531.0" cy="165.0" r="2.15"/>
<circle cx="531.0" cy="165.0" r="2.15"/>
<circle cx="531.0" cy="165.0" r="2.15"/>
<circle cx="531.0" cy="165.0" r="2.15"/>
<circle cx="531.0" cy="165.0" r="2.15"/>
<circle cx="531.0" cy="165.0" r="2.15"/>
<circle cx="531.0" cy="165.0" r="2.15"/>
<circle cx="532.0" cy="165.0" r="2.15"/>
<circle cx="532.0" cy="165.0" r="2.15"/>
<circle cx="532.0" cy="165.0" r="2.15"/>
<circle cx="532.0" cy="165.0" r="2.15"/>
<circle cx="532.0" cy="164.0" r="2.15"/>
<circle cx="532.0" cy="164.0" r="2.15"/>
<circle cx="532.0" cy="164.0" r="2.15"/>
<circle cx="532.0" cy="164.0" r="2.15"/>
<circle cx="532.0" cy="164.0" r="2.15"/>
<circle cx="532.0" cy="164.0" r="2.15"/>
<circle cx="532.0" cy="164.0" r="2.15"/>
<circle cx="532.0" cy="164.0" r="2.15"/>
<circle cx="532.0" cy="164.0" r="2.15"/>
<circle cx="532.0" cy="164.0" r="2.15"/>
<circle cx="533.0" cy="164.0" r="2.15"/>
<circle cx="533.0" cy="164.0" r="2.15"/>
<circle cx="533.0" cy="164.0" r="2.15"/>
<circle cx="533.0" cy="164.0" r="2.15"/>
<circle cx="533.0" cy="164.0" r="2.15"/>
<circle cx="533.0" cy="164.0" r="2.15"/>
<circle cx="533.0" cy="164.0" r="2.15"/>
<circle cx="533.0" cy="164.0" r="2.15"/>
<circle cx="533.0" cy="164.0" r="2.15"/>
<circle cx="533.0" cy="164.0" r="2.15"/>
<circle cx="533.0" cy="164.0" r="2.15"/>
<circle cx="533.0" cy="164.0" r="2.15"/>
<circle cx="533.0" cy="164.0" r="2.15"/>
<circle cx="533.0" cy="163.0" r="2.15"/>
<circle cx="534.0" cy="163.0" r="2.15"/>
<circle cx="534.0" cy="163.0" r="2.15"/>
<circle cx="534.0" cy="163.0" r="2.15"/>
<circle cx="534.0" cy="163.0" r="2.15"/>
<circle cx="534.0" cy="163.0" r="2.15"/>
<circle cx="534.0" cy="163.0" r="2.15"/>
<circle cx="534.0" cy="163.0" r="2.15"/>
<circle cx="534.0" cy="163.0" r="2.15"/>
<circle cx="534.0" cy="163.0" r="2.15"/>
<circle cx="534.0" cy="163.0" r="2.15"/>
<circle cx="534.0" cy="163.0" r="2.15"/>
<circle cx="534.0" cy="163.0" r="2.15"/>
<circle cx="534.0" cy="163.0" r="2.15"/>
<circle cx="534.0" cy="163.0" r="2.15"/>
<circle cx="535.0" cy="163.0" r="2.15"/>
<circle cx="535.0" cy="163.0" r="2.15"/>
<circle cx="535.0" cy="163.0" r="2.15"/>
<circle cx="535.0" cy="163.0" r="2.15"/>
<circle cx="535.0" cy="163.0" r="2.15"/>
<circle cx="535.0" cy="163.0" r="2.15"/>
<circle cx="535.0" cy="163.0" r="2.15"/>
<circle cx="535.0" cy="163.0" r="2.15"/>
<circle cx="535.0" cy="163.0" r="2.15"/>
<circle cx="535.0" cy="162.0" r="2.15"/>
<circle cx="535.0" cy="162.0" r="2.15"/>
<circle cx="535.0" cy="162.0" r="2.15"/>
<circle cx="535.0" cy="162.0" r="2.15"/>
<circle cx="535.0" cy="162.0" r="2.15"/>
<circle cx="536.0" cy="162.0" r="2.15"/>
<circle cx="536.0" cy="162.0" r="2.15"/>
<circle cx="536.0" cy="162.0" r="2.15"/>
<circle cx="536.0" cy="162.0" r="2.15"/>
<circle cx="536.0" cy="162.0" r="2.15"/>
<circle cx="536.0" cy="162.0" r="2.15"/>
<circle cx="536.0" cy="162.0" r="2.15"/>
<circle cx="536.0" cy="162.0" r="2.15"/>
<circle cx="536.0" cy="162.0" r="2.15"/>
<circle cx="536.0" cy="162.0" r="2.15"/>
<circle cx="536.0" cy="162.0" r="2.15"/>
<circle cx="536.0" cy="162.0" r="2.15"/>
<circle cx="536.0" cy="162.0" r="2.15"/>
<circle cx="536.0" cy="162.0" r="2.15"/>
<circle cx="537.0" cy="162.0" r="2.15"/>
<circle cx="537.0" cy="162.0" r="2.15"/>
<circle cx="537.0" cy="162.0" r="2.15"/>
<circle cx="537.0" cy="162.0" r="2.15"/>
<circle cx="537.0" cy="162.0" r="2.15"/>
<circle cx="537.0" cy="162.0" r="2.15"/>
<circle cx="537.0" cy="161.0" r="2.15"/>
<circle cx="537.0" cy="161.0" r="2.15"/>
<circle cx="537.0" cy="161.0" r="2.15"/>
<circle cx="537.0" cy="161.0" r="2.15"/>
<circle cx="537.0" cy="161.0" r="2.15"/>
<circle cx="537.0" cy="161.0" r="2.15"/>
<circle cx="537.0" cy="161.0" r="2.15"/>
<circle cx="537.0" cy="161.0" r="2.15"/>
<circle cx="538.0" cy="161.0" r="2.15"/>
<circle cx="538.0" cy="161.0" r="2.15"/>
<circle cx="538.0" cy="161.0" r="2.15"/>
<circle cx="538.0" cy="161.0" r="2.15"/>
<circle cx="538.0" cy="161.0" r="2.15"/>
<circle cx="538.0" cy="161.0" r="2.15"/>
<circle cx="538.0" cy="161.0" r="2.15"/>
<circle cx="538.0" cy="161.0" r="2.15"/>
<circle cx="538.0" cy="161.0" r="2.15"/>
<circle cx="538.0" cy="161.0" r="2.15"/>
<circle cx="538.0" cy="161.0" r="2.15"/>
<circle cx="538.0" cy="161.0" r="2.15"/>
<circle cx="538.0" cy="161.0" r="2.15"/>
<circle cx="538.0" cy="161.0" r="2.15"/>
<circle cx="539.0" cy="161.0" r="2.15"/>
<circle cx="539.0" cy="161.0" r="2.15"/>
<circle cx="539.0" cy="161.0" r="2.15"/>
<circle cx="539.0" cy="161.0" r="2.15"/>
<circle cx="539.0" cy="161.0" r="2.15"/>
<circle cx="539.0" cy="160.0" r="2.15"/>
<circle cx="539.0" cy="160.0" r="2.15"/>
<circle cx="539.0" cy="160.0" r="2.15"/>
<circle cx="539.0" cy="160.0" r="2.15"/>
<circle cx="539.0" cy="160.0" r="2.15"/>
<circle cx="539.0" cy="160.0" r="2.15"/>
<circle cx="539.0" cy="160.0" r="2.15"/>
<circle cx="539.0" cy="160.0" r="2.15"/>
<circle cx="539.0" cy="160.0" r="2.15"/>
<circle cx="540.0" cy="160.0" r="2.15"/>
<circle cx="540.0" cy="160.0" r="2.15"/>
<circle cx="540.0" cy="160.0" r="2.15"/>
<circle cx="540.0" cy="160.0" r="2.15"/>
<circle cx="540.0" cy="160.0" r="2.15"/>
<circle cx="540.0" cy="160.0" r="2.15"/>
<circle cx="540.0" cy="160.0" r="2.15"/>
<circle cx="540.0" cy="160.0" r="2.15"/>
<circle cx="540.0" cy="160.0" r="2.15"/>
<circle cx="540.0" cy="160.0" r="2.15"/>
<circle cx="540.0" cy="160.0" r="2.15"/>
<circle cx="540.0" cy="160.0" r="2.15"/>
<circle cx="540.0" cy="160.0" r="2.15"/>
<circle cx="541.0" cy="160.0" r="2.15"/>
<circle cx="541.0" cy="160.0" r="2.15"/>
<circle cx="541.0" cy="160.0" r="2.15"/>
<circle cx="541.0" cy="160.0" r="2.15"/>
<circle cx="541.0" cy="160.0" r="2.15"/>
<circle cx="541.0" cy="159.0" r="2.15"/>
<circle cx="541.0" cy="159.0" r="2.15"/>
<circle cx="541.0" cy="159.0" r="2.15"/>
<circle cx="541.0" cy="159.0" r="2.15"/>
<circle cx="541.0" cy="159.0" r="2.15"/>
<circle cx="541.0" cy="159.0" r="2.15"/>
<circle cx="541.0" cy="159.0" r="2.15"/>
<circle cx="541.0" cy="159.0" r="2.15"/>
<circle cx="541.0" cy="159.0" r="2.15"/>
<circle cx="542.0" cy="159.0" r="2.15"/>
<circle cx="542.0" cy="159.0" r="2.15"/>
<circle cx="542.0" cy="159.0" r="2.15"/>
<circle cx="542.0" cy="159.0" r="2.15"/>
<circle cx="542.0" cy="159.0" r="2.15"/>
<circle cx="542.0" cy="159.0" r="2.15"/>
<circle cx="542.0" cy="159.0" r="2.15"/>
<circle cx="542.0" cy="159.0" r="2.15"/>
<circle cx="542.0" cy="159.0" r="2.15"/>
<circle cx="542.0" cy="159.0" r="2.15"/>
<circle cx="542.0" cy="159.0" r="2.15"/>
<circle cx="542.0" cy="159.0" r="2.15"/>
<circle cx="542.0" cy="159.0" r="2.15"/>
<circle cx="542.0" cy="159.0" r="2.15"/>
<circle cx="543.0" cy="159.0" r="2.15"/>
<circle cx="543.0" cy="159.0" r="2.15"/>
<circle cx="543.0" cy="159.0" r="2.15"/>
<circle cx="543.0" cy="159.0" r="2.15"/>
<circle cx="543.0" cy="158.0" r="2.15"/>
<circle cx="543.0" cy="158.0" r="2.15"/>
<circle cx="543.0" cy="158.0" r="2.15"/>
<circle cx="543.0" cy="158.0" r="2.15"/>
<circle cx="543.0" cy="158.0" r="2.15"/>
<circle cx="543.0" cy="158.0" r="2.15"/>
<circle cx="543.0" cy="158.0" r="2.15"/>
<circle cx="543.0" cy="158.0" r="2.15"/>
<circle cx="543.0" cy="158.0" r="2.15"/>
<circle cx="543.0" cy="158.0" r="2.15"/>
<circle cx="544.0" cy="158.0" r="2.15"/>
<circle cx="544.0" cy="158.0" r="2.15"/>
<circle cx="544.0" cy="158.0" r="2.15"/>
<circle cx="544.0" cy="158.0" r="2.15"/>
<circle cx="544.0" cy="158.0" r="2.15"/>
<circle cx="544.0" cy="158.0" r="2.15"/>
<circle cx="544.0" cy="158.0" r="2.15"/>
<circle cx="544.0" cy="158.0" r="2.15"/>
<circle cx="544.0" cy="158.0" r="2.15"/>
<circle cx="544.0" cy="158.0" r="2.15"/>
<circle cx="544.0" cy="158.0" r="2.15"/>
<circle cx="544.0" cy="158.0" r="2.15"/>
<circle cx="544.0" cy="158.0" r="2.15"/>
<circle cx="545.0" cy="158.0" r="2.15"/>
<circle cx="545.0" cy="158.0" r="2.15"/>
<circle cx="545.0" cy="158.0" r="2.15"/>
<circle cx="545.0" cy="157.0" r="2.15"/>
<circle cx="545.0" cy="157.0" r="2.15"/>
<circle cx="545.0" cy="157.0" r="2.15"/>
<circle cx="545.0" cy="157.0" r="2.15"/>
<circle cx="545.0" cy="157.0" r="2.15"/>
<circle cx="545.0" cy="157.0" r="2.15"/>
<circle cx="545.0" cy="157.0" r="2.15"/>
<circle cx="545.0" cy="157.0" r="2.15"/>
<circle cx="545.0" cy="157.0" r="2.15"/>
<circle cx="545.0" cy="157.0" r="2.15"/>
<circle cx="545.0" cy="157.0" r="2.15"/>
<circle cx="546.0" cy="157.0" r="2.15"/>
<circle cx="546.0" cy="157.0" r="2.15"/>
<circle cx="546.0" cy="157.0" r="2.15"/>
<circle cx="546.0" cy="157.0" r="2.15"/>
<circle cx="546.0" cy="157.0" r="2.15"/>
<circle cx="546.0" cy="157.0" r="2.15"/>
<circle cx="546.0" cy="157.0" r="2.15"/>
<circle cx="546.0" cy="157.0" r="2.15"/>
<circle cx="546.0" cy="157.0" r="2.15"/>
<circle cx="546.0" cy="157.0" r="2.15"/>
<circle cx="546.0" cy="157.0" r="2.15"/>
<circle cx="546.0" cy="157.0" r="2.15"/>
<circle cx="546.0" cy="157.0" r="2.15"/>
<circle cx="547.0" cy="157.0" r="2.15"/>
<circle cx="547.0" cy="157.0" r="2.15"/>
<circle cx="547.0" cy="156.0" r="2.15"/>
<circle cx="547.0" cy="156.0" r="2.15"/>
<circle cx="547.0" cy="156.0" r="2.15"/>
<circle cx="547.0" cy="156.0" r="2.15"/>
<circle cx="547.0" cy="156.0" r="2.15"/>
<circle cx="547.0" cy="156.0" r="2.15"/>
<circle cx="547.0" cy="156.0" r="2.15"/>
<circle cx="547.0" cy="156.0" r="2.15"/>
<circle cx="547.0" cy="156.0" r="2.15"/>
<circle cx="547.0" cy="156.0" r="2.15"/>
<circle cx="547.0" cy="156.0" r="2.15"/>
<circle cx="548.0" cy="156.0" r="2.15"/>
<circle cx="548.0" cy="156.0" r="2.15"/>
<circle cx="548.0" cy="156.0" r="2.15"/>
<circle cx="548.0" cy="156.0" r="2.15"/>
<circle cx="548.0" cy="156.0" r="2.15"/>
<circle cx="548.0" cy="156.0" r="2.15"/>
<circle cx="548.0" cy="156.0" r="2.15"/>
<circle cx="548.0" cy="156.0" r="2.15"/>
<circle cx="548.0" cy="156.0" r="2.15"/>
<circle cx="548.0" cy="156.0" r="2.15"/>
<circle cx="548.0" cy="156.0" r="2.15"/>
<circle cx="548.0" cy="156.0" r="2.15"/>
<circle cx="548.0" cy="155.0" r="2.15"/>
<circle cx="549.0" cy="155.0" r="2.15"/>
<circle cx="549.0" cy="155.0" r="2.15"/>
<circle cx="549.0" cy="155.0" r="2.15"/>
<circle cx="549.0" cy="155.0" r="2.15"/>
<circle cx="549.0" cy="155.0" r="2.15"/>
<circle cx="549.0" cy="155.0" r="2.15"/>
<circle cx="549.0" cy="155.0" r="2.15"/>
<circle cx="549.0" cy="155.0" r="2.15"/>
<circle cx="549.0" cy="155.0" r="2.15"/>
<circle cx="549.0" cy="155.0" r="2.15"/>
<circle cx="549.0" cy="155.0" r="2.15"/>
<circle cx="549.0" cy="155.0" r="2.15"/>
<circle cx="549.0" cy="155.0" r="2.15"/>
<circle cx="550.0" cy="155.0" r="2.15"/>
<circle cx="550.0" cy="155.0" r="2.15"/>
<circle cx="550.0" cy="155.0" r="2.15"/>
<circle cx="550.0" cy="155.0" r="2.15"/>
<circle cx="550.0" cy="155.0" r="2.15"/>
<circle cx="550.0" cy="155.0" r="2.15"/>
<circle cx="550.0" cy="155.0" r="2.15"/>
<circle cx="550.0" cy="154.0" r="2.15"/>
<circle cx="550.0" cy="154.0" r="2.15"/>
<circle cx="550.0" cy="154.0" r="2.15"/>
<circle cx="550.0" cy="154.0" r="2.15"/>
<circle cx="550.0" cy="154.0" r="2.15"/>
<circle cx="550.0" cy="154.0" r="2.15"/>
<circle cx="551.0" cy="154.0" r="2.15"/>
<circle cx="551.0" cy="154.0" r="2.15"/>
<circle cx="551.0" cy="154.0" r="2.15"/>
<circle cx="551.0" cy="154.0" r="2.15"/>
<circle cx="551.0" cy="154.0" r="2.15"/>
<circle cx="551.0" cy="154.0" r="2.15"/>
<circle cx="551.0" cy="154.0" r="2.15"/>
<circle cx="551.0" cy="154.0" r="2.15"/>
<circle cx="551.0" cy="154.0" r="2.15"/>
<circle cx="551.0" cy="154.0" r="2.15"/>
<circle cx="551.0" cy="154.0" r="2.15"/>
<circle cx="551.0" cy="154.0" r="2.15"/>
<circle cx="551.0" cy="154.0" r="2.15"/>
<circle cx="552.0" cy="154.0" r="2.15"/>
<circle cx="552.0" cy="153.0" r="2.15"/>
<circle cx="552.0" cy="153.0" r="2.15"/>
<circle cx="552.0" cy="153.0" r="2.15"/>
<circle cx="552.0" cy="153.0" r="2.15"/>
<circle cx="552.0" cy="153.0" r="2.15"/>
<circle cx="552.0" cy="153.0" r="2.15"/>
<circle cx="552.0" cy="153.0" r="2.15"/>
<circle cx="552.0" cy="153.0" r="2.15"/>
<circle cx="552.0" cy="153.0" r="2.15"/>
<circle cx="552.0" cy="153.0" r="2.15"/>
<circle cx="552.0" cy="153.0" r="2.15"/>
<circle cx="552.0" cy="153.0" r="2.15"/>
<circle cx="553.0" cy="153.0" r="2.15"/>
<circle cx="553.0" cy="153.0" r="2.15"/>
<circle cx="553.0" cy="153.0" r="2.15"/>
<circle cx="553.0" cy="153.0" r="2.15"/>
<circle cx="553.0" cy="153.0" r="2.15"/>
<circle cx="553.0" cy="153.0" r="2.15"/>
<circle cx="553.0" cy="153.0" r="2.15"/>
<circle cx="553.0" cy="152.0" r="2.15"/>
<circle cx="553.0" cy="152.0" r="2.15"/>
<circle cx="553.0" cy="152.0" r="2.15"/>
<circle cx="553.0" cy="152.0" r="2.15"/>
<circle cx="553.0" cy="152.0" r="2.15"/>
<circle cx="554.0" cy="152.0" r="2.15"/>
<circle cx="554.0" cy="152.0" r="2.15"/>
<circle cx="554.0" cy="152.0" r="2.15"/>
<circle cx="554.0" cy="152.0" r="2.15"/>
<circle cx="554.0" cy="152.0" r="2.15"/>
<circle cx="554.0" cy="152.0" r="2.15"/>
<circle cx="554.0" cy="152.0" r="2.15"/>
<circle cx="554.0" cy="152.0" r="2.15"/>
<circle cx="554.0" cy="152.0" r="2.15"/>
<circle cx="554.0" cy="152.0" r="2.15"/>
<circle cx="554.0" cy="152.0" r="2.15"/>
<circle cx="554.0" cy="152.0" r="2.15"/>
<circle cx="554.0" cy="152.0" r="2.15"/>
<circle cx="555.0" cy="151.0" r="2.15"/>
<circle cx="555.0" cy="151.0" r="2.15"/>
<circle cx="555.0" cy="151.0" r="2.15"/>
<circle cx="555.0" cy="151.0" r="2.15"/>
<circle cx="555.0" cy="151.0" r="2.15"/>
<circle cx="555.0" cy="151.0" r="2.15"/>
<circle cx="555.0" cy="151.0" r="2.15"/>
<circle cx="555.0" cy="151.0" r="2.15"/>
<circle cx="555.0" cy="151.0" r="2.15"/>
<circle cx="555.0" cy="151.0" r="2.15"/>
<circle cx="555.0" cy="151.0" r="2.15"/>
<circle cx="555.0" cy="151.0" r="2.15"/>
<circle cx="556.0" cy="151.0" r="2.15"/>
<circle cx="556.0" cy="151.0" r="2.15"/>
<circle cx="556.0" cy="151.0" r="2.15"/>
<circle cx="556.0" cy="151.0" r="2.15"/>
<circle cx="556.0" cy="151.0" r="2.15"/>
<circle cx="556.0" cy="151.0" r="2.15"/>
<circle cx="556.0" cy="150.0" r="2.15"/>
<circle cx="556.0" cy="150.0" r="2.15"/>
<circle cx="556.0" cy="150.0" r="2.15"/>
<circle cx="556.0" cy="150.0" r="2.15"/>
<circle cx="556.0" cy="150.0" r="2.15"/>
<circle cx="556.0" cy="150.0" r="2.15"/>
<circle cx="557.0" cy="150.0" r="2.15"/>
<circle cx="557.0" cy="150.0" r="2.15"/>
<circle cx="557.0" cy="150.0" r="2.15"/>
<circle cx="557.0" cy="150.0" r="2.15"/>
<circle cx="557.0" cy="150.0" r="2.15"/>
<circle cx="557.0" cy="150.0" r="2.15"/>
<circle cx="557.0" cy="150.0" r="2.15"/>
<circle cx="557.0" cy="150.0" r="2.15"/>
<circle cx="557.0" cy="150.0" r="2.15"/>
<circle cx="557.0" cy="150.0" r="2.15"/>
<circle cx="557.0" cy="149.0" r="2.15"/>
<circle cx="558.0" cy="149.0" r="2.15"/>
<circle cx="558.0" cy="149.0" r="2.15"/>
<circle cx="558.0" cy="149.0" r="2.15"/>
<circle cx="558.0" cy="149.0" r="2.15"/>
<circle cx="558.0" cy="149.0" r="2.15"/>
<circle cx="558.0" cy="149.0" r="2.15"/>
<circle cx="558.0" cy="149.0" r="2.15"/>
<circle cx="558.0" cy="149.0" r="2.15"/>
<circle cx="558.0" cy="149.0" r="2.15"/>
<circle cx="558.0" cy="149.0" r="2.15"/>
<circle cx="558.0" cy="149.0" r="2.15"/>
<circle cx="558.0" cy="149.0" r="2.15"/>
<circle cx="559.0" cy="149.0" r="2.15"/>
<circle cx="559.0" cy="149.0" r="2.15"/>
<circle cx="559.0" cy="149.0" r="2.15"/>
<circle cx="559.0" cy="148.0" r="2.15"/>
<circle cx="559.0" cy="148.0" r="2.15"/>
<circle cx="559.0" cy="148.0" r="2.15"/>
<circle cx="559.0" cy="148.0" r="2.15"/>
<circle cx="559.0" cy="148.0" r="2.15"/>
<circle cx="559.0" cy="148.0" r="2.15"/>
<circle cx="559.0" cy="148.0" r="2.15"/>
<circle cx="559.0" cy="148.0" r="2.15"/>
<circle cx="560.0" cy="148.0" r="2.15"/>
<circle cx="560.0" cy="148.0" r="2.15"/>
<circle cx="560.0" cy="148.0" r="2.15"/>
<circle cx="560.0" cy="148.0" r="2.15"/>
<circle cx="560.0" cy="148.0" r="2.15"/>
<circle cx="560.0" cy="148.0" r="2.15"/>
<circle cx="560.0" cy="148.0" r="2.15"/>
<circle cx="560.0" cy="148.0" r="2.15"/>
<circle cx="560.0" cy="147.0" r="2.15"/>
<circle cx="560.0" cy="147.0" r="2.15"/>
<circle cx="560.0" cy="147.0" r="2.15"/>
<circle cx="560.0" cy="147.0" r="2.15"/>
<circle cx="561.0" cy="147.0" r="2.15"/>
<circle cx="561.0" cy="147.0" r="2.15"/>
<circle cx="561.0" cy="147.0" r="2.15"/>
<circle cx="561.0" cy="147.0" r="2.15"/>
<circle cx="561.0" cy="147.0" r="2.15"/>
<circle cx="561.0" cy="147.0" r="2.15"/>
<circle cx="561.0" cy="147.0" r="2.15"/>
<circle cx="561.0" cy="147.0" r="2.15"/>
<circle cx="561.0" cy="147.0" r="2.15"/>
<circle cx="561.0" cy="147.0" r="2.15"/>
<circle cx="561.0" cy="146.0" r="2.15"/>
<circle cx="562.0" cy="146.0" r="2.15"/>
<circle cx="562.0" cy="146.0" r="2.15"/>
<circle cx="562.0" cy="146.0" r="2.15"/>
<circle cx="562.0" cy="146.0" r="2.15"/>
<circle cx="562.0" cy="146.0" r="2.15"/>
<circle cx="562.0" cy="146.0" r="2.15"/>
<circle cx="562.0" cy="146.0" r="2.15"/>
<circle cx="562.0" cy="146.0" r="2.15"/>
<circle cx="562.0" cy="146.0" r="2.15"/>
<circle cx="562.0" cy="146.0" r="2.15"/>
<circle cx="562.0" cy="146.0" r="2.15"/>
<circle cx="563.0" cy="146.0" r="2.15"/>
<circle cx="563.0" cy="146.0" r="2.15"/>
<circle cx="563.0" cy="145.0" r="2.15"/>
<circle cx="563.0" cy="145.0" r="2.15"/>
<circle cx="563.0" cy="145.0" r="2.15"/>
<circle cx="563.0" cy="145.0" r="2.15"/>
<circle cx="563.0" cy="145.0" r="2.15"/>
<circle cx="563.0" cy="145.0" r="2.15"/>
<circle cx="563.0" cy="145.0" r="2.15"/>
<circle cx="563.0" cy="145.0" r="2.15"/>
<circle cx="564.0" cy="145.0" r="2.15"/>
<circle cx="564.0" cy="145.0" r="2.15"/>
<circle cx="564.0" cy="145.0" r="2.15"/>
<circle cx="564.0" cy="145.0" r="2.15"/>
<circle cx="564.0" cy="145.0" r="2.15"/>
<circle cx="564.0" cy="144.0" r="2.15"/>
<circle cx="564.0" cy="144.0" r="2.15"/>
<circle cx="564.0" cy="144.0" r="2.15"/>
<circle cx="564.0" cy="144.0" r="2.15"/>
<circle cx="564.0" cy="144.0" r="2.15"/>
<circle cx="564.0" cy="144.0" r="2.15"/>
<circle cx="565.0" cy="144.0" r="2.15"/>
<circle cx="565.0" cy="144.0" r="2.15"/>
<circle cx="565.0" cy="144.0" r="2.15"/>
<circle cx="565.0" cy="144.0" r="2.15"/>
<circle cx="565.0" cy="144.0" r="2.15"/>
<circle cx="565.0" cy="144.0" r="2.15"/>
<circle cx="565.0" cy="144.0" r="2.15"/>
<circle cx="565.0" cy="143.0" r="2.15"/>
<circle cx="565.0" cy="143.0" r="2.15"/>
<circle cx="565.0" cy="143.0" r="2.15"/>
<circle cx="566.0" cy="143.0" r="2.15"/>
<circle cx="566.0" cy="143.0" r="2.15"/>
<circle cx="566.0" cy="143.0" r="2.15"/>
<circle cx="566.0" cy="143.0" r="2.15"/>
<circle cx="566.0" cy="143.0" r="2.15"/>
<circle cx="566.0" cy="143.0" r="2.15"/>
<circle cx="566.0" cy="143.0" r="2.15"/>
<circle cx="566.0" cy="143.0" r="2.15"/>
<circle cx="566.0" cy="143.0" r="2.15"/>
<circle cx="566.0" cy="143.0" r="2.15"/>
<circle cx="567.0" cy="143.0" r="2.15"/>
<circle cx="567.0" cy="142.0" r="2.15"/>
<circle cx="567.0" cy="142.0" r="2.15"/>
<circle cx="567.0" cy="142.0" r="2.15"/>
<circle cx="567.0" cy="142.0" r="2.15"/>
<circle cx="567.0" cy="142.0" r="2.15"/>
<circle cx="567.0" cy="142.0" r="2.15"/>
<circle cx="567.0" cy="142.0" r="2.15"/>
<circle cx="567.0" cy="142.0" r="2.15"/>
<circle cx="568.0" cy="142.0" r="2.15"/>
<circle cx="568.0" cy="142.0" r="2.15"/>
<circle cx="568.0" cy="142.0" r="2.15"/>
<circle cx="568.0" cy="142.0" r="2.15"/>
<circle cx="568.0" cy="142.0" r="2.15"/>
<circle cx="568.0" cy="142.0" r="2.15"/>
<circle cx="568.0" cy="141.0" r="2.15"/>
<circle cx="568.0" cy="141.0" r="2.15"/>
<circle cx="568.0" cy="141.0" r="2.15"/>
<circle cx="568.0" cy="141.0" r="2.15"/>
<circle cx="569.0" cy="141.0" r="2.15"/>
<circle cx="569.0" cy="141.0" r="2.15"/>
<circle cx="569.0" cy="141.0" r="2.15"/>
<circle cx="569.0" cy="141.0" r="2.15"/>
<circle cx="569.0" cy="141.0" r="2.15"/>
<circle cx="569.0" cy="141.0" r="2.15"/>
<circle cx="569.0" cy="141.0" r="2.15"/>
<circle cx="569.0" cy="141.0" r="2.15"/>
<circle cx="569.0" cy="141.0" r="2.15"/>
<circle cx="570.0" cy="141.0" r="2.15"/>
<circle cx="570.0" cy="140.0" r="2.15"/>
<circle cx="570.0" cy="140.0" r="2.15"/>
<circle cx="570.0" cy="140.0" r="2.15"/>
<circle cx="570.0" cy="140.0" r="2.15"/>
<circle cx="570.0" cy="140.0" r="2.15"/>
<circle cx="570.0" cy="140.0" r="2.15"/>
<circle cx="570.0" cy="140.0" r="2.15"/>
<circle cx="570.0" cy="140.0" r="2.15"/>
<circle cx="571.0" cy="140.0" r="2.15"/>
<circle cx="571.0" cy="140.0" r="2.15"/>
<circle cx="571.0" cy="140.0" r="2.15"/>
<circle cx="571.0" cy="140.0" r="2.15"/>
<circle cx="571.0" cy="140.0" r="2.15"/>
<circle cx="571.0" cy="140.0" r="2.15"/>
<circle cx="571.0" cy="139.0" r="2.15"/>
<circle cx="571.0" cy="139.0" r="2.15"/>
<circle cx="571.0" cy="139.0" r="2.15"/>
<circle cx="572.0" cy="139.0" r="2.15"/>
<circle cx="572.0" cy="139.0" r="2.15"/>
<circle cx="572.0" cy="139.0" r="2.15"/>
<circle cx="572.0" cy="139.0" r="2.15"/>
<circle cx="572.0" cy="139.0" r="2.15"/>
<circle cx="572.0" cy="139.0" r="2.15"/>
<circle cx="572.0" cy="139.0" r="2.15"/>
<circle cx="572.0" cy="139.0" r="2.15"/>
<circle cx="572.0" cy="139.0" r="2.15"/>
<circle cx="573.0" cy="139.0" r="2.15"/>
<circle cx="573.0" cy="138.0" r="2.15"/>
<circle cx="573.0" cy="138.0" r="2.15"/>
<circle cx="573.0" cy="138.0" r="2.15"/>
<circle cx="573.0" cy="138.0" r="2.15"/>
<circle cx="573.0" cy="138.0" r="2.15"/>
<circle cx="573.0" cy="138.0" r="2.15"/>
<circle cx="573.0" cy="138.0" r="2.15"/>
<circle cx="574.0" cy="138.0" r="2.15"/>
<circle cx="574.0" cy="138.0" r="2.15"/>
<circle cx="574.0" cy="138.0" r="2.15"/>
<circle cx="574.0" cy="138.0" r="2.15"/>
<circle cx="574.0" cy="138.0" r="2.15"/>
<circle cx="574.0" cy="138.0" r="2.15"/>
<circle cx="574.0" cy="137.0" r="2.15"/>
<circle cx="574.0" cy="137.0" r="2.15"/>
<circle cx="575.0" cy="137.0" r="2.15"/>
<circle cx="575.0" cy="137.0" r="2.15"/>
<circle cx="575.0" cy="137.0" r="2.15"/>
<circle cx="575.0" cy="137.0" r="2.15"/>
<circle cx="575.0" cy="137.0" r="2.15"/>
<circle cx="575.0" cy="137.0" r="2.15"/>
<circle cx="575.0" cy="137.0" r="2.15"/>
<circle cx="575.0" cy="137.0" r="2.15"/>
<circle cx="576.0" cy="137.0" r="2.15"/>
<circle cx="576.0" cy="137.0" r="2.15"/>
<circle cx="576.0" cy="137.0" r="2.15"/>
<circle cx="576.0" cy="136.0" r="2.15"/>
<circle cx="576.0" cy="136.0" r="2.15"/>
<circle cx="576.0" cy="136.0" r="2.15"/>
<circle cx="576.0" cy="136.0" r="2.15"/>
<circle cx="576.0" cy="136.0" r="2.15"/>
<circle cx="577.0" cy="136.0" r="2.15"/>
<circle cx="577.0" cy="136.0" r="2.15"/>
<circle cx="577.0" cy="136.0" r="2.15"/>
<circle cx="577.0" cy="136.0" r="2.15"/>
<circle cx="577.0" cy="136.0" r="2.15"/>
<circle cx="577.0" cy="136.0" r="2.15"/>
<circle cx="577.0" cy="136.0" r="2.15"/>
<circle cx="578.0" cy="136.0" r="2.15"/>
<circle cx="578.0" cy="135.0" r="2.15"/>
<circle cx="578.0" cy="135.0" r="2.15"/>
<circle cx="578.0" cy="135.0" r="2.15"/>
<circle cx="578.0" cy="135.0" r="2.15"/>
<circle cx="578.0" cy="135.0" r="2.15"/>
<circle cx="578.0" cy="135.0" r="2.15"/>
<circle cx="578.0" cy="135.0" r="2.15"/>
<circle cx="579.0" cy="135.0" r="2.15"/>
<circle cx="579.0" cy="135.0" r="2.15"/>
<circle cx="579.0" cy="135.0" r="2.15"/>
<circle cx="579.0" cy="135.0" r="2.15"/>
<circle cx="579.0" cy="135.0" r="2.15"/>
<circle cx="579.0" cy="134.0" r="2.15"/>
<circle cx="579.0" cy="134.0" r="2.15"/>
<circle cx="580.0" cy="134.0" r="2.15"/>
<circle cx="580.0" cy="134.0" r="2.15"/>
<circle cx="580.0" cy="134.0" r="2.15"/>
<circle cx="580.0" cy="134.0" r="2.15"/>
<circle cx="580.0" cy="134.0" r="2.15"/>
<circle cx="580.0" cy="134.0" r="2.15"/>
<circle cx="580.0" cy="134.0" r="2.15"/>
<circle cx="581.0" cy="134.0" r="2.15"/>
<circle cx="581.0" cy="134.0" r="2.15"/>
<circle cx="581.0" cy="133.0" r="2.15"/>
<circle cx="581.0" cy="133.0" r="2.15"/>
<circle cx="581.0" cy="133.0" r="2.15"/>
<circle cx="581.0" cy="133.0" r="2.15"/>
<circle cx="582.0" cy="133.0" r="2.15"/>
<circle cx="582.0" cy="133.0" r="2.15"/>
<circle cx="582.0" cy="133.0" r="2.15"/>
<circle cx="582.0" cy="133.0" r="2.15"/>
<circle cx="582.0" cy="133.0" r="2.15"/>
<circle cx="582.0" cy="133.0" r="2.15"/>
<circle cx="582.0" cy="133.0" r="2.15"/>
<circle cx="583.0" cy="132.0" r="2.15"/>
<circle cx="583.0" cy="132.0" r="2.15"/>
<circle cx="583.0" cy="132.0" r="2.15"/>
<circle cx="583.0" cy="132.0" r="2.15"/>
<circle cx="583.0" cy="132.0" r="2.15"/>
<circle cx="583.0" cy="132.0" r="2.15"/>
<circle cx="584.0" cy="132.0" r="2.15"/>
<circle cx="584.0" cy="132.0" r="2.15"/>
<circle cx="584.0" cy="132.0" r="2.15"/>
<circle cx="584.0" cy="131.0" r="2.15"/>
<circle cx="584.0" cy="131.0" r="2.15"/>
<circle cx="584.0" cy="131.0" r="2.15"/>
<circle cx="585.0" cy="131.0" r="2.15"/>
<circle cx="585.0" cy="131.0" r="2.15"/>
<circle cx="585.0" cy="131.0" r="2.15"/>
<circle cx="585.0" cy="131.0" r="2.15"/>
<circle cx="585.0" cy="131.0" r="2.15"/>
<circle cx="586.0" cy="131.0" r="2.15"/>
<circle cx="586.0" cy="130.0" r="2.15"/>
<circle cx="586.0" cy="130.0" r="2.15"/>
<circle cx="586.0" cy="130.0" r="2.15"/>
<circle cx="586.0" cy="130.0" r="2.15"/>
<circle cx="586.0" cy="130.0" r="2.15"/>
<circle cx="587.0" cy="130.0" r="2.15"/>
<circle cx="587.0" cy="130.0" r="2.15"/>
<circle cx="587.0" cy="130.0" r="2.15"/>
<circle cx="587.0" cy="130.0" r="2.15"/>
<circle cx="587.0" cy="129.0" r="2.15"/>
<circle cx="588.0" cy="129.0" r="2.15"/>
<circle cx="588.0" cy="129.0" r="2.15"/>
<circle cx="588.0" cy="129.0" r="2.15"/>
<circle cx="588.0" cy="129.0" r="2.15"/>
<circle cx="588.0" cy="129.0" r="2.15"/>
<circle cx="589.0" cy="129.0" r="2.15"/>
<circle cx="589.0" cy="128.0" r="2.15"/>
<circle cx="589.0" cy="128.0" r="2.15"/>
<circle cx="589.0" cy="128.0" r="2.15"/>
<circle cx="589.0" cy="128.0" r="2.15"/>
<circle cx="590.0" cy="128.0" r="2.15"/>
<circle cx="590.0" cy="128.0" r="2.15"/>
<circle cx="590.0" cy="128.0" r="2.15"/>
<circle cx="590.0" cy="127.0" r="2.15"/>
<circle cx="590.0" cy="127.0" r="2.15"/>
<circle cx="591.0" cy="127.0" r="2.15"/>
<circle cx="591.0" cy="127.0" r="2.15"/>
<circle cx="591.0" cy="127.0" r="2.15"/>
<circle cx="591.0" cy="127.0" r="2.15"/>
<circle cx="591.0" cy="126.0" r="2.15"/>
<circle cx="592.0" cy="126.0" r="2.15"/>
<circle cx="592.0" cy="126.0" r="2.15"/>
<circle cx="592.0" cy="126.0" r="2.15"/>
<circle cx="592.0" cy="126.0" r="2.15"/>
<circle cx="593.0" cy="126.0" r="2.15"/>
<circle cx="593.0" cy="125.0" r="2.15"/>
<circle cx="593.0" cy="125.0" r="2.15"/>
<circle cx="593.0" cy="125.0" r="2.15"/>
<circle cx="594.0" cy="125.0" r="2.15"/>
<circle cx="594.0" cy="125.0" r="2.15"/>
<circle cx="594.0" cy="125.0" r="2.15"/>
<circle cx="594.0" cy="124.0" r="2.15"/>
<circle cx="594.0" cy="124.0" r="2.15"/>
<circle cx="595.0" cy="124.0" r="2.15"/>
<circle cx="595.0" cy="124.0" r="2.15"/>
<circle cx="595.0" cy="124.0" r="2.15"/>
<circle cx="596.0" cy="124.0" r="2.15"/>
<circle cx="596.0" cy="123.0" r="2.15"/>
<circle cx="596.0" cy="123.0" r="2.15"/>
<circle cx="596.0" cy="123.0" r="2.15"/>
<circle cx="597.0" cy="123.0" r="2.15"/>
<circle cx="597.0" cy="122.0" r="2.15"/>
<circle cx="597.0" cy="122.0" r="2.15"/>
<circle cx="597.0" cy="122.0" r="2.15"/>
<circle cx="598.0" cy="122.0" r="2.15"/>
<circle cx="598.0" cy="121.0" r="2.15"/>
<circle cx="598.0" cy="121.0" r="2.15"/>
<circle cx="599.0" cy="121.0" r="2.15"/>
<circle cx="599.0" cy="121.0" r="2.15"/>
<circle cx="599.0" cy="120.0" r="2.15"/>
<circle cx="600.0" cy="120.0" r="2.15"/>
<circle cx="600.0" cy="120.0" r="2.15"/>
<circle cx="600.0" cy="119.0" r="2.15"/>
<circle cx="601.0" cy="119.0" r="2.15"/>
<circle cx="601.0" cy="119.0" r="2.15"/>
<circle cx="601.0" cy="118.0" r="2.15"/>
<circle cx="602.0" cy="118.0" r="2.15"/>
<circle cx="602.0" cy="118.0" r="2.15"/>
<circle cx="602.0" cy="117.0" r="2.15"/>
<circle cx="603.0" cy="117.0" r="2.15"/>
<circle cx="603.0" cy="117.0" r="2.15"/>
<circle cx="603.0" cy="116.0" r="2.15"/>
<circle cx="604.0" cy="116.0" r="2.15"/>
<circle cx="604.0" cy="115.0" r="2.15"/>
<circle cx="604.0" cy="115.0" r="2.15"/>
<circle cx="605.0" cy="114.0" r="2.15"/>
<circle cx="605.0" cy="114.0" r="2.15"/>
<circle cx="606.0" cy="114.0" r="2.15"/>
<circle cx="606.0" cy="113.0" r="2.15"/>
<circle cx="607.0" cy="113.0" r="2.15"/>
<circle cx="607.0" cy="112.0" r="2.15"/>
<circle cx="607.0" cy="112.0" r="2.15"/>
<circle cx="608.0" cy="111.0" r="2.15"/>
<circle cx="608.0" cy="111.0" r="2.15"/>
<circle cx="609.0" cy="110.0" r="2.15"/>
<circle cx="609.0" cy="109.0" r="2.15"/>
<circle cx="610.0" cy="109.0" r="2.15"/>
<circle cx="611.0" cy="108.0" r="2.15"/>
<circle cx="611.0" cy="108.0" r="2.15"/>
<circle cx="612.0" cy="107.0" r="2.15"/>
<circle cx="612.0" cy="106.0" r="2.15"/>
<circle cx="613.0" cy="106.0" r="2.15"/>
<circle cx="613.0" cy="105.0" r="2.15"/>
<circle cx="614.0" cy="104.0" r="2.15"/>
<circle cx="615.0" cy="103.0" r="2.15"/>
<circle cx="616.0" cy="102.0" r="2.15"/>
<circle cx="616.0" cy="101.0" r="2.15"/>
<circle cx="617.0" cy="100.0" r="2.15"/>
<circle cx="618.0" cy="98.0" r="2.15"/>
<circle cx="619.0" cy="97.0" r="2.15"/>
<circle cx="619.6" cy="95.6" r="2.15"/>
<circle cx="620.5" cy="94.8" r="2.15"/>
<circle cx="621.5" cy="94.0" r="2.15"/>
<circle cx="622.6" cy="93.2" r="2.15"/>
<circle cx="623.7" cy="92.2" r="2.15"/>
<circle cx="624.9" cy="90.3" r="2.15"/>
<circle cx="626.3" cy="83.9" r="2.15"/>
<circle cx="627.8" cy="82.3" r="2.15"/>
<circle cx="629.4" cy="81.7" r="2.15"/>
<circle cx="631.2" cy="81.4" r="2.15"/>
<circle cx="633.3" cy="81.2" r="2.15"/>
<circle cx="635.8" cy="79.9" r="2.15"/>
<circle cx="638.7" cy="77.2" r="2.15"/>
<circle cx="642.6" cy="76.1" r="2.15"/>
<circle cx="648.1" cy="74.6" r="2.15"/>
<circle cx="658.5" cy="54.7" r="2.15"/>
</g>
</g>
<rect x="404.0" y="31.5" width="263.0" height="263.9" fill="none" stroke="#9da4a9" stroke-width="1.4"/>
<line x1="461.0" y1="295.4" x2="461.0" y2="302.79999999999995" stroke="#9da4a9" stroke-width="1.4"/>
<text x="459.3" y="315.9" font-size="11.3" text-anchor="middle" font-family="Liberation Sans, sans-serif" stroke="#000" stroke-width="0.22" fill="#000">-2</text>
<line x1="535.5" y1="295.4" x2="535.5" y2="302.79999999999995" stroke="#9da4a9" stroke-width="1.4"/>
<text x="534.7" y="315.9" font-size="11.3" text-anchor="middle" font-family="Liberation Sans, sans-serif" stroke="#000" stroke-width="0.22" fill="#000">0</text>
<line x1="610.0" y1="295.4" x2="610.0" y2="302.79999999999995" stroke="#9da4a9" stroke-width="1.4"/>
<text x="609.2" y="315.9" font-size="11.3" text-anchor="middle" font-family="Liberation Sans, sans-serif" stroke="#000" stroke-width="0.22" fill="#000">2</text>
<line x1="397.0" y1="287.3" x2="404.0" y2="287.3" stroke="#9da4a9" stroke-width="1.4"/>
<text x="393.3" y="290.3" font-size="11.3" text-anchor="end" font-family="Liberation Sans, sans-serif" stroke="#000" stroke-width="0.22" fill="#000">-100</text>
<line x1="397.0" y1="225.475" x2="404.0" y2="225.475" stroke="#9da4a9" stroke-width="1.4"/>
<text x="393.3" y="228.5" font-size="11.3" text-anchor="end" font-family="Liberation Sans, sans-serif" stroke="#000" stroke-width="0.22" fill="#000">-50</text>
<line x1="397.0" y1="163.65" x2="404.0" y2="163.65" stroke="#9da4a9" stroke-width="1.4"/>
<text x="393.3" y="166.7" font-size="11.3" text-anchor="end" font-family="Liberation Sans, sans-serif" stroke="#000" stroke-width="0.22" fill="#000">0</text>
<line x1="397.0" y1="101.82500000000002" x2="404.0" y2="101.82500000000002" stroke="#9da4a9" stroke-width="1.4"/>
<text x="393.3" y="104.8" font-size="11.3" text-anchor="end" font-family="Liberation Sans, sans-serif" stroke="#000" stroke-width="0.22" fill="#000">50</text>
<line x1="397.0" y1="40.000000000000014" x2="404.0" y2="40.000000000000014" stroke="#9da4a9" stroke-width="1.4"/>
<text x="393.3" y="43.0" font-size="11.3" text-anchor="end" font-family="Liberation Sans, sans-serif" stroke="#000" stroke-width="0.22" fill="#000">100</text>
<text x="535.0" y="26.4" font-size="11" letter-spacing="-0.15" text-anchor="middle" font-family="Liberation Sans, sans-serif" stroke="#000" stroke-width="0.22" fill="#000">QQ-Plot</text>
<text x="535" y="335.1" font-size="12" text-anchor="middle" letter-spacing="0.38" font-family="Liberation Sans, sans-serif" stroke="#000" stroke-width="0.22" fill="#000">Quantile</text>
<text transform="translate(360.0,163.8) rotate(-90)" font-size="13" text-anchor="middle" letter-spacing="0.25" font-family="Liberation Sans, sans-serif" stroke="#000" stroke-width="0.22" fill="#000">Residual</text>
</svg>
</body></html>
